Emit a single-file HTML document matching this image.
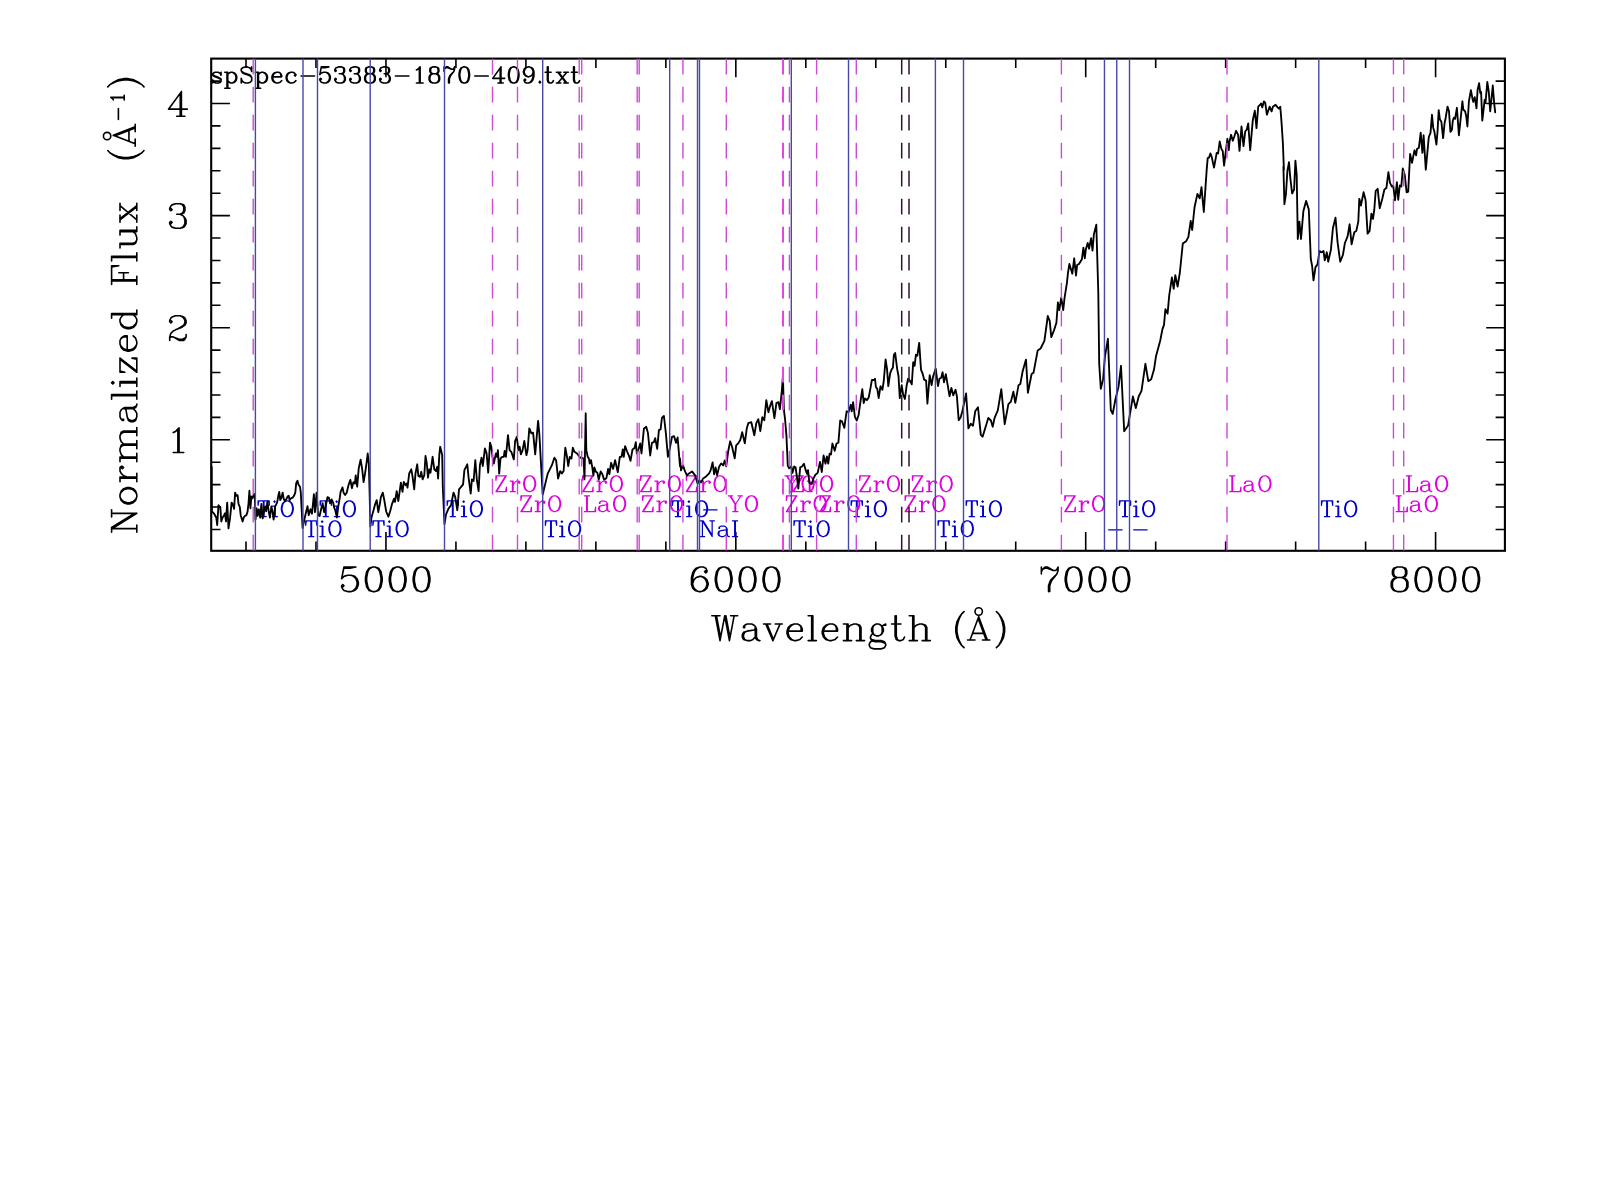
<!DOCTYPE html>
<html><head><meta charset="utf-8"><style>
html,body{margin:0;padding:0;background:#fff;width:1600px;height:1196px;overflow:hidden}
svg{display:block}
</style></head><body>
<svg width="1600" height="1196" viewBox="0 0 1600 1196">
<rect width="1600" height="1196" fill="#fff"/>
<rect x="211.2" y="58.6" width="1293.70" height="492.20" fill="none" stroke="#000" stroke-width="2.1"/><path d="M246.00 550.8V541.50M246.00 58.6V67.90M315.97 550.8V541.50M315.97 58.6V67.90M385.95 550.8V532.10M385.95 58.6V77.30M455.93 550.8V541.50M455.93 58.6V67.90M525.90 550.8V541.50M525.90 58.6V67.90M595.88 550.8V541.50M595.88 58.6V67.90M665.85 550.8V541.50M665.85 58.6V67.90M735.83 550.8V532.10M735.83 58.6V77.30M805.81 550.8V541.50M805.81 58.6V67.90M875.78 550.8V541.50M875.78 58.6V67.90M945.76 550.8V541.50M945.76 58.6V67.90M1015.73 550.8V541.50M1015.73 58.6V67.90M1085.71 550.8V532.10M1085.71 58.6V77.30M1155.69 550.8V541.50M1155.69 58.6V67.90M1225.66 550.8V541.50M1225.66 58.6V67.90M1295.64 550.8V541.50M1295.64 58.6V67.90M1365.61 550.8V541.50M1365.61 58.6V67.90M1435.59 550.8V532.10M1435.59 58.6V77.30M211.2 529.48H220.50M1504.9 529.48H1495.60M211.2 507.06H220.50M1504.9 507.06H1495.60M211.2 484.64H220.50M1504.9 484.64H1495.60M211.2 462.22H220.50M1504.9 462.22H1495.60M211.2 439.80H229.90M1504.9 439.80H1486.20M211.2 417.38H220.50M1504.9 417.38H1495.60M211.2 394.96H220.50M1504.9 394.96H1495.60M211.2 372.54H220.50M1504.9 372.54H1495.60M211.2 350.12H220.50M1504.9 350.12H1495.60M211.2 327.70H229.90M1504.9 327.70H1486.20M211.2 305.28H220.50M1504.9 305.28H1495.60M211.2 282.86H220.50M1504.9 282.86H1495.60M211.2 260.44H220.50M1504.9 260.44H1495.60M211.2 238.02H220.50M1504.9 238.02H1495.60M211.2 215.60H229.90M1504.9 215.60H1486.20M211.2 193.18H220.50M1504.9 193.18H1495.60M211.2 170.76H220.50M1504.9 170.76H1495.60M211.2 148.34H220.50M1504.9 148.34H1495.60M211.2 125.92H220.50M1504.9 125.92H1495.60M211.2 103.50H229.90M1504.9 103.50H1486.20M211.2 81.08H220.50M1504.9 81.08H1495.60" stroke="#000" stroke-width="1.6" fill="none"/>
<g fill="none" stroke="#000" stroke-linecap="round" stroke-linejoin="round" stroke-width="1.6"><path d="M343.99 567.01L341.61 578.72M341.61 578.72L343.99 576.38L347.57 575.21L351.15 575.21L354.73 576.38L357.12 578.72L358.31 582.23L358.31 584.57L357.12 588.09L354.73 590.43L351.15 591.60L347.57 591.60L343.99 590.43L342.80 589.26L341.61 586.92L341.61 585.75L342.80 584.57L343.99 585.75L342.80 586.92M351.15 575.21L353.54 576.38L355.92 578.72L357.12 582.23L357.12 584.57L355.92 588.09L353.54 590.43L351.15 591.60M343.99 567.01L355.92 567.01M343.99 568.18L349.96 568.18L355.92 567.01M372.63 567.01L369.05 568.18L366.66 571.69L365.47 577.55L365.47 581.06L366.66 586.92L369.05 590.43L372.63 591.60L375.01 591.60L378.59 590.43L380.98 586.92L382.17 581.06L382.17 577.55L380.98 571.69L378.59 568.18L375.01 567.01L372.63 567.01M372.63 567.01L370.24 568.18L369.05 569.35L367.85 571.69L366.66 577.55L366.66 581.06L367.85 586.92L369.05 589.26L370.24 590.43L372.63 591.60M375.01 591.60L377.40 590.43L378.59 589.26L379.78 586.92L380.98 581.06L380.98 577.55L379.78 571.69L378.59 569.35L377.40 568.18L375.01 567.01M396.49 567.01L392.91 568.18L390.52 571.69L389.33 577.55L389.33 581.06L390.52 586.92L392.91 590.43L396.49 591.60L398.87 591.60L402.45 590.43L404.84 586.92L406.03 581.06L406.03 577.55L404.84 571.69L402.45 568.18L398.87 567.01L396.49 567.01M396.49 567.01L394.10 568.18L392.91 569.35L391.71 571.69L390.52 577.55L390.52 581.06L391.71 586.92L392.91 589.26L394.10 590.43L396.49 591.60M398.87 591.60L401.26 590.43L402.45 589.26L403.64 586.92L404.84 581.06L404.84 577.55L403.64 571.69L402.45 569.35L401.26 568.18L398.87 567.01M420.35 567.01L416.77 568.18L414.38 571.69L413.19 577.55L413.19 581.06L414.38 586.92L416.77 590.43L420.35 591.60L422.73 591.60L426.31 590.43L428.70 586.92L429.89 581.06L429.89 577.55L428.70 571.69L426.31 568.18L422.73 567.01L420.35 567.01M420.35 567.01L417.96 568.18L416.77 569.35L415.57 571.69L414.38 577.55L414.38 581.06L415.57 586.92L416.77 589.26L417.96 590.43L420.35 591.60M422.73 591.60L425.12 590.43L426.31 589.26L427.50 586.92L428.70 581.06L428.70 577.55L427.50 571.69L426.31 569.35L425.12 568.18L422.73 567.01M705.81 570.52L704.61 571.69L705.81 572.86L707.00 571.69L707.00 570.52L705.81 568.18L703.42 567.01L699.84 567.01L696.26 568.18L693.88 570.52L692.68 572.86L691.49 577.55L691.49 584.57L692.68 588.09L695.07 590.43L698.65 591.60L701.03 591.60L704.61 590.43L707.00 588.09L708.19 584.57L708.19 583.40L707.00 579.89L704.61 577.55L701.03 576.38L699.84 576.38L696.26 577.55L693.88 579.89L692.68 583.40M699.84 567.01L697.45 568.18L695.07 570.52L693.88 572.86L692.68 577.55L692.68 584.57L693.88 588.09L696.26 590.43L698.65 591.60M701.03 591.60L703.42 590.43L705.81 588.09L707.00 584.57L707.00 583.40L705.81 579.89L703.42 577.55L701.03 576.38M722.51 567.01L718.93 568.18L716.54 571.69L715.35 577.55L715.35 581.06L716.54 586.92L718.93 590.43L722.51 591.60L724.89 591.60L728.47 590.43L730.86 586.92L732.05 581.06L732.05 577.55L730.86 571.69L728.47 568.18L724.89 567.01L722.51 567.01M722.51 567.01L720.12 568.18L718.93 569.35L717.74 571.69L716.54 577.55L716.54 581.06L717.74 586.92L718.93 589.26L720.12 590.43L722.51 591.60M724.89 591.60L727.28 590.43L728.47 589.26L729.67 586.92L730.86 581.06L730.86 577.55L729.67 571.69L728.47 569.35L727.28 568.18L724.89 567.01M746.37 567.01L742.79 568.18L740.40 571.69L739.21 577.55L739.21 581.06L740.40 586.92L742.79 590.43L746.37 591.60L748.75 591.60L752.33 590.43L754.72 586.92L755.91 581.06L755.91 577.55L754.72 571.69L752.33 568.18L748.75 567.01L746.37 567.01M746.37 567.01L743.98 568.18L742.79 569.35L741.60 571.69L740.40 577.55L740.40 581.06L741.60 586.92L742.79 589.26L743.98 590.43L746.37 591.60M748.75 591.60L751.14 590.43L752.33 589.26L753.53 586.92L754.72 581.06L754.72 577.55L753.53 571.69L752.33 569.35L751.14 568.18L748.75 567.01M770.23 567.01L766.65 568.18L764.26 571.69L763.07 577.55L763.07 581.06L764.26 586.92L766.65 590.43L770.23 591.60L772.61 591.60L776.19 590.43L778.58 586.92L779.77 581.06L779.77 577.55L778.58 571.69L776.19 568.18L772.61 567.01L770.23 567.01M770.23 567.01L767.84 568.18L766.65 569.35L765.46 571.69L764.26 577.55L764.26 581.06L765.46 586.92L766.65 589.26L767.84 590.43L770.23 591.60M772.61 591.60L775.00 590.43L776.19 589.26L777.39 586.92L778.58 581.06L778.58 577.55L777.39 571.69L776.19 569.35L775.00 568.18L772.61 567.01M1041.37 567.01L1041.37 574.03M1041.37 571.69L1042.56 569.35L1044.95 567.01L1047.33 567.01L1053.30 570.52L1055.68 570.52L1056.88 569.35L1058.07 567.01M1042.56 569.35L1044.95 568.18L1047.33 568.18L1053.30 570.52M1058.07 567.01L1058.07 570.52L1056.88 574.03L1052.11 579.89L1050.91 582.23L1049.72 585.75L1049.72 591.60M1056.88 574.03L1050.91 579.89L1049.72 582.23L1048.53 585.75L1048.53 591.60M1072.39 567.01L1068.81 568.18L1066.42 571.69L1065.23 577.55L1065.23 581.06L1066.42 586.92L1068.81 590.43L1072.39 591.60L1074.77 591.60L1078.35 590.43L1080.74 586.92L1081.93 581.06L1081.93 577.55L1080.74 571.69L1078.35 568.18L1074.77 567.01L1072.39 567.01M1072.39 567.01L1070.00 568.18L1068.81 569.35L1067.62 571.69L1066.42 577.55L1066.42 581.06L1067.62 586.92L1068.81 589.26L1070.00 590.43L1072.39 591.60M1074.77 591.60L1077.16 590.43L1078.35 589.26L1079.55 586.92L1080.74 581.06L1080.74 577.55L1079.55 571.69L1078.35 569.35L1077.16 568.18L1074.77 567.01M1096.25 567.01L1092.67 568.18L1090.28 571.69L1089.09 577.55L1089.09 581.06L1090.28 586.92L1092.67 590.43L1096.25 591.60L1098.63 591.60L1102.21 590.43L1104.60 586.92L1105.79 581.06L1105.79 577.55L1104.60 571.69L1102.21 568.18L1098.63 567.01L1096.25 567.01M1096.25 567.01L1093.86 568.18L1092.67 569.35L1091.47 571.69L1090.28 577.55L1090.28 581.06L1091.47 586.92L1092.67 589.26L1093.86 590.43L1096.25 591.60M1098.63 591.60L1101.02 590.43L1102.21 589.26L1103.40 586.92L1104.60 581.06L1104.60 577.55L1103.40 571.69L1102.21 569.35L1101.02 568.18L1098.63 567.01M1120.11 567.01L1116.53 568.18L1114.14 571.69L1112.95 577.55L1112.95 581.06L1114.14 586.92L1116.53 590.43L1120.11 591.60L1122.49 591.60L1126.07 590.43L1128.46 586.92L1129.65 581.06L1129.65 577.55L1128.46 571.69L1126.07 568.18L1122.49 567.01L1120.11 567.01M1120.11 567.01L1117.72 568.18L1116.53 569.35L1115.34 571.69L1114.14 577.55L1114.14 581.06L1115.34 586.92L1116.53 589.26L1117.72 590.43L1120.11 591.60M1122.49 591.60L1124.88 590.43L1126.07 589.26L1127.26 586.92L1128.46 581.06L1128.46 577.55L1127.26 571.69L1126.07 569.35L1124.88 568.18L1122.49 567.01M1397.21 567.01L1393.63 568.18L1392.44 570.52L1392.44 574.03L1393.63 576.38L1397.21 577.55L1401.99 577.55L1405.57 576.38L1406.76 574.03L1406.76 570.52L1405.57 568.18L1401.99 567.01L1397.21 567.01M1397.21 567.01L1394.83 568.18L1393.63 570.52L1393.63 574.03L1394.83 576.38L1397.21 577.55M1401.99 577.55L1404.37 576.38L1405.57 574.03L1405.57 570.52L1404.37 568.18L1401.99 567.01M1397.21 577.55L1393.63 578.72L1392.44 579.89L1391.25 582.23L1391.25 586.92L1392.44 589.26L1393.63 590.43L1397.21 591.60L1401.99 591.60L1405.57 590.43L1406.76 589.26L1407.95 586.92L1407.95 582.23L1406.76 579.89L1405.57 578.72L1401.99 577.55M1397.21 577.55L1394.83 578.72L1393.63 579.89L1392.44 582.23L1392.44 586.92L1393.63 589.26L1394.83 590.43L1397.21 591.60M1401.99 591.60L1404.37 590.43L1405.57 589.26L1406.76 586.92L1406.76 582.23L1405.57 579.89L1404.37 578.72L1401.99 577.55M1422.27 567.01L1418.69 568.18L1416.30 571.69L1415.11 577.55L1415.11 581.06L1416.30 586.92L1418.69 590.43L1422.27 591.60L1424.65 591.60L1428.23 590.43L1430.62 586.92L1431.81 581.06L1431.81 577.55L1430.62 571.69L1428.23 568.18L1424.65 567.01L1422.27 567.01M1422.27 567.01L1419.88 568.18L1418.69 569.35L1417.50 571.69L1416.30 577.55L1416.30 581.06L1417.50 586.92L1418.69 589.26L1419.88 590.43L1422.27 591.60M1424.65 591.60L1427.04 590.43L1428.23 589.26L1429.43 586.92L1430.62 581.06L1430.62 577.55L1429.43 571.69L1428.23 569.35L1427.04 568.18L1424.65 567.01M1446.13 567.01L1442.55 568.18L1440.16 571.69L1438.97 577.55L1438.97 581.06L1440.16 586.92L1442.55 590.43L1446.13 591.60L1448.51 591.60L1452.09 590.43L1454.48 586.92L1455.67 581.06L1455.67 577.55L1454.48 571.69L1452.09 568.18L1448.51 567.01L1446.13 567.01M1446.13 567.01L1443.74 568.18L1442.55 569.35L1441.36 571.69L1440.16 577.55L1440.16 581.06L1441.36 586.92L1442.55 589.26L1443.74 590.43L1446.13 591.60M1448.51 591.60L1450.90 590.43L1452.09 589.26L1453.29 586.92L1454.48 581.06L1454.48 577.55L1453.29 571.69L1452.09 569.35L1450.90 568.18L1448.51 567.01M1469.99 567.01L1466.41 568.18L1464.02 571.69L1462.83 577.55L1462.83 581.06L1464.02 586.92L1466.41 590.43L1469.99 591.60L1472.37 591.60L1475.95 590.43L1478.34 586.92L1479.53 581.06L1479.53 577.55L1478.34 571.69L1475.95 568.18L1472.37 567.01L1469.99 567.01M1469.99 567.01L1467.60 568.18L1466.41 569.35L1465.22 571.69L1464.02 577.55L1464.02 581.06L1465.22 586.92L1466.41 589.26L1467.60 590.43L1469.99 591.60M1472.37 591.60L1474.76 590.43L1475.95 589.26L1477.14 586.92L1478.34 581.06L1478.34 577.55L1477.14 571.69L1475.95 569.35L1474.76 568.18L1472.37 567.01M173.21 432.59L175.55 431.42L179.06 427.90L179.06 452.50M177.89 429.08L177.89 452.50M173.21 452.50L183.74 452.50M170.86 320.49L172.03 321.66L170.86 322.83L169.69 321.66L169.69 320.49L170.86 318.15L172.03 316.98L175.55 315.80L180.23 315.80L183.74 316.98L184.92 318.15L186.09 320.49L186.09 322.83L184.92 325.17L181.40 327.51L175.55 329.86L173.21 331.03L170.86 333.37L169.69 336.88L169.69 340.40M180.23 315.80L182.57 316.98L183.74 318.15L184.92 320.49L184.92 322.83L183.74 325.17L180.23 327.51L175.55 329.86M169.69 338.05L170.86 336.88L173.21 336.88L179.06 339.22L182.57 339.22L184.92 338.05L186.09 336.88M173.21 336.88L179.06 340.40L183.74 340.40L184.92 339.22L186.09 336.88L186.09 334.54M170.86 208.39L172.03 209.56L170.86 210.73L169.69 209.56L169.69 208.39L170.86 206.05L172.03 204.88L175.55 203.70L180.23 203.70L183.74 204.88L184.92 207.22L184.92 210.73L183.74 213.07L180.23 214.24L176.72 214.24M180.23 203.70L182.57 204.88L183.74 207.22L183.74 210.73L182.57 213.07L180.23 214.24M180.23 214.24L182.57 215.41L184.92 217.76L186.09 220.10L186.09 223.61L184.92 225.95L183.74 227.12L180.23 228.30L175.55 228.30L172.03 227.12L170.86 225.95L169.69 223.61L169.69 222.44L170.86 221.27L172.03 222.44L170.86 223.61M183.74 216.59L184.92 220.10L184.92 223.61L183.74 225.95L182.57 227.12L180.23 228.30M180.23 93.95L180.23 116.20M181.40 91.60L181.40 116.20M181.40 91.60L168.52 109.17L187.26 109.17M176.72 116.20L184.92 116.20M715.33 615.80L720.02 640.60M716.50 615.80L720.02 634.70M724.73 615.80L720.02 640.60M724.73 615.80L729.42 640.60M725.90 615.80L729.42 634.70M734.12 615.80L729.42 640.60M711.80 615.80L720.02 615.80M730.60 615.80L737.65 615.80M744.70 626.43L744.70 627.61L743.52 627.61L743.52 626.43L744.70 625.25L747.05 624.07L751.75 624.07L754.10 625.25L755.27 626.43L756.45 628.79L756.45 637.06L757.62 639.42L758.80 640.60M755.27 626.43L755.27 637.06L756.45 639.42L758.80 640.60L759.98 640.60M755.27 628.79L754.10 629.97L747.05 631.15L743.52 632.33L742.35 634.70L742.35 637.06L743.52 639.42L747.05 640.60L750.58 640.60L752.92 639.42L755.27 637.06M747.05 631.15L744.70 632.33L743.52 634.70L743.52 637.06L744.70 639.42L747.05 640.60M765.85 624.07L772.90 640.60M767.02 624.07L772.90 638.24M779.95 624.07L772.90 640.60M763.50 624.07L770.55 624.07M775.25 624.07L782.30 624.07M788.17 631.15L802.27 631.15L802.27 628.79L801.10 626.43L799.92 625.25L797.58 624.07L794.05 624.07L790.52 625.25L788.17 627.61L787.00 631.15L787.00 633.51L788.17 637.06L790.52 639.42L794.05 640.60L796.40 640.60L799.92 639.42L802.27 637.06M801.10 631.15L801.10 627.61L799.92 625.25M794.05 624.07L791.70 625.25L789.35 627.61L788.17 631.15L788.17 633.51L789.35 637.06L791.70 639.42L794.05 640.60M811.67 615.80L811.67 640.60M812.85 615.80L812.85 640.60M808.15 615.80L812.85 615.80M808.15 640.60L816.38 640.60M823.42 631.15L837.52 631.15L837.52 628.79L836.35 626.43L835.17 625.25L832.83 624.07L829.30 624.07L825.77 625.25L823.42 627.61L822.25 631.15L822.25 633.51L823.42 637.06L825.77 639.42L829.30 640.60L831.65 640.60L835.17 639.42L837.52 637.06M836.35 631.15L836.35 627.61L835.17 625.25M829.30 624.07L826.95 625.25L824.60 627.61L823.42 631.15L823.42 633.51L824.60 637.06L826.95 639.42L829.30 640.60M846.92 624.07L846.92 640.60M848.10 624.07L848.10 640.60M848.10 627.61L850.45 625.25L853.98 624.07L856.33 624.07L859.85 625.25L861.02 627.61L861.02 640.60M856.33 624.07L858.67 625.25L859.85 627.61L859.85 640.60M843.40 624.07L848.10 624.07M843.40 640.60L851.62 640.60M856.33 640.60L864.55 640.60M876.30 624.07L873.95 625.25L872.77 626.43L871.60 628.79L871.60 631.15L872.77 633.51L873.95 634.70L876.30 635.88L878.65 635.88L881.00 634.70L882.17 633.51L883.35 631.15L883.35 628.79L882.17 626.43L881.00 625.25L878.65 624.07L876.30 624.07M873.95 625.25L872.77 627.61L872.77 632.33L873.95 634.70M881.00 634.70L882.17 632.33L882.17 627.61L881.00 625.25M882.17 626.43L883.35 625.25L885.70 624.07L885.70 625.25L883.35 625.25M872.77 633.51L871.60 634.70L870.42 637.06L870.42 638.24L871.60 640.60L875.12 641.78L881.00 641.78L884.52 642.96L885.70 644.14M870.42 638.24L871.60 639.42L875.12 640.60L881.00 640.60L884.52 641.78L885.70 644.14L885.70 645.32L884.52 647.69L881.00 648.87L873.95 648.87L870.42 647.69L869.25 645.32L869.25 644.14L870.42 641.78L873.95 640.60M895.10 615.80L895.10 635.88L896.27 639.42L898.62 640.60L900.98 640.60L903.33 639.42L904.50 637.06M896.27 615.80L896.27 635.88L897.45 639.42L898.62 640.60M891.58 624.07L900.98 624.07M912.73 615.80L912.73 640.60M913.90 615.80L913.90 640.60M913.90 627.61L916.25 625.25L919.77 624.07L922.12 624.07L925.65 625.25L926.83 627.61L926.83 640.60M922.12 624.07L924.48 625.25L925.65 627.61L925.65 640.60M909.20 615.80L913.90 615.80M909.20 640.60L917.42 640.60M922.12 640.60L930.35 640.60M964.02 611.60L961.67 613.86L959.32 617.24L956.97 621.75L955.80 627.39L955.80 631.91L956.97 637.55L959.32 642.06L961.67 645.44L964.02 647.70M961.67 613.86L959.32 618.37L958.15 621.75L956.97 627.39L956.97 631.91L958.15 637.55L959.32 640.93L961.67 645.44M996.40 611.60L998.75 613.86L1001.10 617.24L1003.45 621.75L1004.62 627.39L1004.62 631.91L1003.45 637.55L1001.10 642.06L998.75 645.44L996.40 647.70M998.75 613.86L1001.10 618.37L1002.27 621.75L1003.45 627.39L1003.45 631.91L1002.27 637.55L1001.10 640.93L998.75 645.44M978.70 616.70L970.03 640.00M978.70 616.70L987.37 640.00M978.70 620.03L986.13 640.00M972.51 633.34L983.66 633.34M967.55 640.00L974.98 640.00M982.42 640.00L989.85 640.00"/><path d="M111.60 528.67L136.80 528.67M111.60 527.50L134.40 513.38M114.00 527.50L136.80 513.38M111.60 513.38L136.80 513.38M111.60 532.20L111.60 527.50M111.60 516.91L111.60 509.86M136.80 532.20L136.80 525.14M120.00 496.92L121.20 500.45L123.60 502.80L127.20 503.98L129.60 503.98L133.20 502.80L135.60 500.45L136.80 496.92L136.80 494.57L135.60 491.04L133.20 488.69L129.60 487.51L127.20 487.51L123.60 488.69L121.20 491.04L120.00 494.57L120.00 496.92M120.00 496.92L121.20 499.27L123.60 501.62L127.20 502.80L129.60 502.80L133.20 501.62L135.60 499.27L136.80 496.92M136.80 494.57L135.60 492.22L133.20 489.86L129.60 488.69L127.20 488.69L123.60 489.86L121.20 492.22L120.00 494.57M120.00 478.10L136.80 478.10M120.00 476.93L136.80 476.93M127.20 476.93L123.60 475.75L121.20 473.40L120.00 471.05L120.00 467.52L121.20 466.34L122.40 466.34L123.60 467.52L122.40 468.70L121.20 467.52M120.00 481.63L120.00 476.93M136.80 481.63L136.80 473.40M120.00 458.11L136.80 458.11M120.00 456.94L136.80 456.94M123.60 456.94L121.20 454.58L120.00 451.06L120.00 448.70L121.20 445.18L123.60 444.00L136.80 444.00M120.00 448.70L121.20 446.35L123.60 445.18L136.80 445.18M123.60 444.00L121.20 441.65L120.00 438.12L120.00 435.77L121.20 432.24L123.60 431.06L136.80 431.06M120.00 435.77L121.20 433.42L123.60 432.24L136.80 432.24M120.00 461.64L120.00 456.94M136.80 461.64L136.80 453.41M136.80 448.70L136.80 440.47M136.80 435.77L136.80 427.54M122.40 419.30L123.60 419.30L123.60 420.48L122.40 420.48L121.20 419.30L120.00 416.95L120.00 412.25L121.20 409.90L122.40 408.72L124.80 407.54L133.20 407.54L135.60 406.37L136.80 405.19M122.40 408.72L133.20 408.72L135.60 407.54L136.80 405.19L136.80 404.02M124.80 408.72L126.00 409.90L127.20 416.95L128.40 420.48L130.80 421.66L133.20 421.66L135.60 420.48L136.80 416.95L136.80 413.42L135.60 411.07L133.20 408.72M127.20 416.95L128.40 419.30L130.80 420.48L133.20 420.48L135.60 419.30L136.80 416.95M111.60 395.78L136.80 395.78M111.60 394.61L136.80 394.61M111.60 399.31L111.60 394.61M136.80 399.31L136.80 391.08M111.60 382.85L112.80 384.02L114.00 382.85L112.80 381.67L111.60 382.85M120.00 382.85L136.80 382.85M120.00 381.67L136.80 381.67M120.00 386.38L120.00 381.67M136.80 386.38L136.80 378.14M120.00 359.33L136.80 372.26M120.00 358.15L136.80 371.09M120.00 371.09L124.80 372.26L120.00 372.26L120.00 358.15M136.80 372.26L136.80 358.15L132.00 358.15L136.80 359.33M127.20 349.92L127.20 335.81L124.80 335.81L122.40 336.98L121.20 338.16L120.00 340.51L120.00 344.04L121.20 347.57L123.60 349.92L127.20 351.10L129.60 351.10L133.20 349.92L135.60 347.57L136.80 344.04L136.80 341.69L135.60 338.16L133.20 335.81M127.20 336.98L123.60 336.98L121.20 338.16M120.00 344.04L121.20 346.39L123.60 348.74L127.20 349.92L129.60 349.92L133.20 348.74L135.60 346.39L136.80 344.04M111.60 314.64L136.80 314.64M111.60 313.46L136.80 313.46M123.60 314.64L121.20 316.99L120.00 319.34L120.00 321.70L121.20 325.22L123.60 327.58L127.20 328.75L129.60 328.75L133.20 327.58L135.60 325.22L136.80 321.70L136.80 319.34L135.60 316.99L133.20 314.64M120.00 321.70L121.20 324.05L123.60 326.40L127.20 327.58L129.60 327.58L133.20 326.40L135.60 324.05L136.80 321.70M111.60 318.17L111.60 313.46M136.80 314.64L136.80 309.94M111.60 280.97L136.80 280.97M111.60 279.80L136.80 279.80M118.80 272.74L128.40 272.74M111.60 284.50L111.60 265.68L118.80 265.68L111.60 266.86M123.60 279.80L123.60 272.74M136.80 284.50L136.80 276.27M111.60 257.45L136.80 257.45M111.60 256.28L136.80 256.28M111.60 260.98L111.60 256.28M136.80 260.98L136.80 252.75M120.00 244.52L133.20 244.52L135.60 243.34L136.80 239.81L136.80 237.46L135.60 233.93L133.20 231.58M120.00 243.34L133.20 243.34L135.60 242.16L136.80 239.81M120.00 231.58L136.80 231.58M120.00 230.40L136.80 230.40M120.00 248.04L120.00 243.34M120.00 235.11L120.00 230.40M136.80 231.58L136.80 226.88M120.00 219.82L136.80 206.88M120.00 218.64L136.80 205.71M120.00 205.71L136.80 219.82M120.00 222.17L120.00 215.12M120.00 210.41L120.00 203.36M136.80 222.17L136.80 215.12M136.80 210.41L136.80 203.36M107.82 150.57L110.08 152.93L113.47 155.28L117.99 157.62L123.64 158.80L128.16 158.80L133.81 157.62L138.33 155.28L141.72 152.93L143.98 150.57M110.08 152.93L114.60 155.28L117.99 156.45L123.64 157.62L128.16 157.62L133.81 156.45L137.20 155.28L141.72 152.93M107.82 86.90L110.08 84.55L113.47 82.20L117.99 79.85L123.64 78.67L128.16 78.67L133.81 79.85L138.33 82.20L141.72 84.55L143.98 86.90M110.08 84.55L114.60 82.20L117.99 81.02L123.64 79.85L128.16 79.85L133.81 81.02L137.20 82.20L141.72 84.55M113.30 135.35L135.20 143.87M113.30 135.35L135.20 126.83M116.43 135.35L135.20 128.05M128.94 141.43L128.94 130.48M135.20 146.30L135.20 139.00M135.20 131.70L135.20 124.40M118.4 119.50L118.4 108.60M113.35 99.90L112.71 98.86L110.80 97.29L124.20 97.29M111.44 97.81L124.20 97.81M124.20 99.90L124.20 95.20"/><circle cx="978.7" cy="611.5" r="3.7"/><circle cx="107.1" cy="136.05" r="3.7"/></g><path d="M220.29 73.77L221.03 72.24L221.03 75.30L220.29 73.77L219.54 73.00L218.04 72.24L215.05 72.24L213.55 73.00L212.80 73.77L212.80 75.30L213.55 76.06L215.05 76.83L218.79 78.36L220.29 79.12L221.03 79.89M212.80 74.53L213.55 75.30L215.05 76.06L218.79 77.59L220.29 78.36L221.03 79.12L221.03 81.42L220.29 82.19L218.79 82.95L215.79 82.95L214.30 82.19L213.55 81.42L212.80 79.89L212.80 82.95L213.55 81.42M227.02 72.24L227.02 88.31M227.77 72.24L227.77 88.31M227.77 74.53L229.27 73.00L230.76 72.24L232.26 72.24L234.51 73.00L236.00 74.53L236.75 76.83L236.75 78.36L236.00 80.66L234.51 82.19L232.26 82.95L230.76 82.95L229.27 82.19L227.77 80.66M232.26 72.24L233.76 73.00L235.26 74.53L236.00 76.83L236.00 78.36L235.26 80.66L233.76 82.19L232.26 82.95M224.78 72.24L227.77 72.24M224.78 88.31L230.02 88.31M250.97 69.18L251.72 66.89L251.72 71.48L250.97 69.18L249.48 67.65L247.23 66.89L244.99 66.89L242.74 67.65L241.24 69.18L241.24 70.71L241.99 72.24L242.74 73.00L244.24 73.77L248.73 75.30L250.23 76.06L251.72 77.59M241.24 70.71L242.74 72.24L244.24 73.00L248.73 74.53L250.23 75.30L250.97 76.06L251.72 77.59L251.72 80.66L250.23 82.19L247.98 82.95L245.73 82.95L243.49 82.19L241.99 80.66L241.24 78.36L241.24 82.95L241.99 80.66M257.71 72.24L257.71 88.31M258.46 72.24L258.46 88.31M258.46 74.53L259.96 73.00L261.45 72.24L262.95 72.24L265.20 73.00L266.69 74.53L267.44 76.83L267.44 78.36L266.69 80.66L265.20 82.19L262.95 82.95L261.45 82.95L259.96 82.19L258.46 80.66M262.95 72.24L264.45 73.00L265.94 74.53L266.69 76.83L266.69 78.36L265.94 80.66L264.45 82.19L262.95 82.95M255.46 72.24L258.46 72.24M255.46 88.31L260.70 88.31M272.68 76.83L281.66 76.83L281.66 75.30L280.91 73.77L280.17 73.00L278.67 72.24L276.42 72.24L274.18 73.00L272.68 74.53L271.93 76.83L271.93 78.36L272.68 80.66L274.18 82.19L276.42 82.95L277.92 82.95L280.17 82.19L281.66 80.66M280.91 76.83L280.91 74.53L280.17 73.00M276.42 72.24L274.93 73.00L273.43 74.53L272.68 76.83L272.68 78.36L273.43 80.66L274.93 82.19L276.42 82.95M295.13 74.53L294.39 75.30L295.13 76.06L295.88 75.30L295.88 74.53L294.39 73.00L292.89 72.24L290.64 72.24L288.40 73.00L286.90 74.53L286.15 76.83L286.15 78.36L286.90 80.66L288.40 82.19L290.64 82.95L292.14 82.95L294.39 82.19L295.88 80.66M290.64 72.24L289.15 73.00L287.65 74.53L286.90 76.83L286.90 78.36L287.65 80.66L289.15 82.19L290.64 82.95M301.12 76.06L314.60 76.06M321.33 66.89L319.84 74.53M319.84 74.53L321.33 73.00L323.58 72.24L325.82 72.24L328.07 73.00L329.57 74.53L330.31 76.83L330.31 78.36L329.57 80.66L328.07 82.19L325.82 82.95L323.58 82.95L321.33 82.19L320.58 81.42L319.84 79.89L319.84 79.12L320.58 78.36L321.33 79.12L320.58 79.89M325.82 72.24L327.32 73.00L328.82 74.53L329.57 76.83L329.57 78.36L328.82 80.66L327.32 82.19L325.82 82.95M321.33 66.89L328.82 66.89M321.33 67.65L325.08 67.65L328.82 66.89M335.55 69.95L336.30 70.71L335.55 71.48L334.81 70.71L334.81 69.95L335.55 68.42L336.30 67.65L338.55 66.89L341.54 66.89L343.79 67.65L344.54 69.18L344.54 71.48L343.79 73.00L341.54 73.77L339.30 73.77M341.54 66.89L343.04 67.65L343.79 69.18L343.79 71.48L343.04 73.00L341.54 73.77M341.54 73.77L343.04 74.53L344.54 76.06L345.28 77.59L345.28 79.89L344.54 81.42L343.79 82.19L341.54 82.95L338.55 82.95L336.30 82.19L335.55 81.42L334.81 79.89L334.81 79.12L335.55 78.36L336.30 79.12L335.55 79.89M343.79 75.30L344.54 77.59L344.54 79.89L343.79 81.42L343.04 82.19L341.54 82.95M350.52 69.95L351.27 70.71L350.52 71.48L349.78 70.71L349.78 69.95L350.52 68.42L351.27 67.65L353.52 66.89L356.51 66.89L358.76 67.65L359.51 69.18L359.51 71.48L358.76 73.00L356.51 73.77L354.27 73.77M356.51 66.89L358.01 67.65L358.76 69.18L358.76 71.48L358.01 73.00L356.51 73.77M356.51 73.77L358.01 74.53L359.51 76.06L360.25 77.59L360.25 79.89L359.51 81.42L358.76 82.19L356.51 82.95L353.52 82.95L351.27 82.19L350.52 81.42L349.78 79.89L349.78 79.12L350.52 78.36L351.27 79.12L350.52 79.89M358.76 75.30L359.51 77.59L359.51 79.89L358.76 81.42L358.01 82.19L356.51 82.95M368.49 66.89L366.24 67.65L365.49 69.18L365.49 71.48L366.24 73.00L368.49 73.77L371.48 73.77L373.73 73.00L374.48 71.48L374.48 69.18L373.73 67.65L371.48 66.89L368.49 66.89M368.49 66.89L366.99 67.65L366.24 69.18L366.24 71.48L366.99 73.00L368.49 73.77M371.48 73.77L372.98 73.00L373.73 71.48L373.73 69.18L372.98 67.65L371.48 66.89M368.49 73.77L366.24 74.53L365.49 75.30L364.75 76.83L364.75 79.89L365.49 81.42L366.24 82.19L368.49 82.95L371.48 82.95L373.73 82.19L374.48 81.42L375.22 79.89L375.22 76.83L374.48 75.30L373.73 74.53L371.48 73.77M368.49 73.77L366.99 74.53L366.24 75.30L365.49 76.83L365.49 79.89L366.24 81.42L366.99 82.19L368.49 82.95M371.48 82.95L372.98 82.19L373.73 81.42L374.48 79.89L374.48 76.83L373.73 75.30L372.98 74.53L371.48 73.77M380.46 69.95L381.21 70.71L380.46 71.48L379.72 70.71L379.72 69.95L380.46 68.42L381.21 67.65L383.46 66.89L386.45 66.89L388.70 67.65L389.45 69.18L389.45 71.48L388.70 73.00L386.45 73.77L384.21 73.77M386.45 66.89L387.95 67.65L388.70 69.18L388.70 71.48L387.95 73.00L386.45 73.77M386.45 73.77L387.95 74.53L389.45 76.06L390.19 77.59L390.19 79.89L389.45 81.42L388.70 82.19L386.45 82.95L383.46 82.95L381.21 82.19L380.46 81.42L379.72 79.89L379.72 79.12L380.46 78.36L381.21 79.12L380.46 79.89M388.70 75.30L389.45 77.59L389.45 79.89L388.70 81.42L387.95 82.19L386.45 82.95M395.43 76.06L408.91 76.06M416.39 69.95L417.89 69.18L420.13 66.89L420.13 82.95M419.39 67.65L419.39 82.95M416.39 82.95L423.13 82.95M432.86 66.89L430.61 67.65L429.87 69.18L429.87 71.48L430.61 73.00L432.86 73.77L435.85 73.77L438.10 73.00L438.85 71.48L438.85 69.18L438.10 67.65L435.85 66.89L432.86 66.89M432.86 66.89L431.36 67.65L430.61 69.18L430.61 71.48L431.36 73.00L432.86 73.77M435.85 73.77L437.35 73.00L438.10 71.48L438.10 69.18L437.35 67.65L435.85 66.89M432.86 73.77L430.61 74.53L429.87 75.30L429.12 76.83L429.12 79.89L429.87 81.42L430.61 82.19L432.86 82.95L435.85 82.95L438.10 82.19L438.85 81.42L439.60 79.89L439.60 76.83L438.85 75.30L438.10 74.53L435.85 73.77M432.86 73.77L431.36 74.53L430.61 75.30L429.87 76.83L429.87 79.89L430.61 81.42L431.36 82.19L432.86 82.95M435.85 82.95L437.35 82.19L438.10 81.42L438.85 79.89L438.85 76.83L438.10 75.30L437.35 74.53L435.85 73.77M444.09 66.89L444.09 71.48M444.09 69.95L444.84 68.42L446.33 66.89L447.83 66.89L451.57 69.18L453.07 69.18L453.82 68.42L454.57 66.89M444.84 68.42L446.33 67.65L447.83 67.65L451.57 69.18M454.57 66.89L454.57 69.18L453.82 71.48L450.82 75.30L450.07 76.83L449.33 79.12L449.33 82.95M453.82 71.48L450.07 75.30L449.33 76.83L448.58 79.12L448.58 82.95M463.55 66.89L461.30 67.65L459.81 69.95L459.06 73.77L459.06 76.06L459.81 79.89L461.30 82.19L463.55 82.95L465.04 82.95L467.29 82.19L468.79 79.89L469.54 76.06L469.54 73.77L468.79 69.95L467.29 67.65L465.04 66.89L463.55 66.89M463.55 66.89L462.05 67.65L461.30 68.42L460.55 69.95L459.81 73.77L459.81 76.06L460.55 79.89L461.30 81.42L462.05 82.19L463.55 82.95M465.04 82.95L466.54 82.19L467.29 81.42L468.04 79.89L468.79 76.06L468.79 73.77L468.04 69.95L467.29 68.42L466.54 67.65L465.04 66.89M474.78 76.06L488.25 76.06M500.22 68.42L500.22 82.95M500.97 66.89L500.97 82.95M500.97 66.89L492.74 78.36L504.72 78.36M497.98 82.95L503.22 82.95M512.95 66.89L510.70 67.65L509.21 69.95L508.46 73.77L508.46 76.06L509.21 79.89L510.70 82.19L512.95 82.95L514.45 82.95L516.69 82.19L518.19 79.89L518.94 76.06L518.94 73.77L518.19 69.95L516.69 67.65L514.45 66.89L512.95 66.89M512.95 66.89L511.45 67.65L510.70 68.42L509.95 69.95L509.21 73.77L509.21 76.06L509.95 79.89L510.70 81.42L511.45 82.19L512.95 82.95M514.45 82.95L515.94 82.19L516.69 81.42L517.44 79.89L518.19 76.06L518.19 73.77L517.44 69.95L516.69 68.42L515.94 67.65L514.45 66.89M533.16 72.24L532.41 74.53L530.91 76.06L528.67 76.83L527.92 76.83L525.67 76.06L524.18 74.53L523.43 72.24L523.43 71.48L524.18 69.18L525.67 67.65L527.92 66.89L529.42 66.89L531.66 67.65L533.16 69.18L533.91 71.48L533.91 76.06L533.16 79.12L532.41 80.66L530.91 82.19L528.67 82.95L526.42 82.95L524.92 82.19L524.18 80.66L524.18 79.89L524.92 79.12L525.67 79.89L524.92 80.66M527.92 76.83L526.42 76.06L524.92 74.53L524.18 72.24L524.18 71.48L524.92 69.18L526.42 67.65L527.92 66.89M529.42 66.89L530.91 67.65L532.41 69.18L533.16 71.48L533.16 76.06L532.41 79.12L531.66 80.66L530.16 82.19L528.67 82.95M539.89 81.42L539.15 82.19L539.89 82.95L540.64 82.19L539.89 81.42M547.38 66.89L547.38 79.89L548.13 82.19L549.62 82.95L551.12 82.95L552.62 82.19L553.37 80.66M548.13 66.89L548.13 79.89L548.88 82.19L549.62 82.95M545.13 72.24L551.12 72.24M557.86 72.24L566.09 82.95M558.61 72.24L566.84 82.95M566.84 72.24L557.86 82.95M556.36 72.24L560.85 72.24M563.85 72.24L568.34 72.24M556.36 82.95L560.85 82.95M563.85 82.95L568.34 82.95M573.58 66.89L573.58 79.89L574.33 82.19L575.82 82.95L577.32 82.95L578.82 82.19L579.57 80.66M574.33 66.89L574.33 79.89L575.07 82.19L575.82 82.95M571.33 72.24L577.32 72.24" fill="none" stroke="#000" stroke-width="1.6" stroke-linecap="round" stroke-linejoin="round"/>
<g fill="none" stroke-linecap="round" stroke-linejoin="round" stroke-width="1.2"><path d="M263.30 500.85L263.30 516.60M264.05 500.85L264.05 516.60M258.80 500.85L258.05 505.35L258.05 500.85L269.30 500.85L269.30 505.35L268.55 500.85M261.05 516.60L266.30 516.60M274.55 500.85L273.80 501.60L274.55 502.35L275.30 501.60L274.55 500.85M274.55 506.10L274.55 516.60M275.30 506.10L275.30 516.60M272.30 506.10L275.30 506.10M272.30 516.60L277.55 516.60M286.55 500.85L284.30 501.60L282.80 503.10L282.05 504.60L281.30 507.60L281.30 509.85L282.05 512.85L282.80 514.35L284.30 515.85L286.55 516.60L288.05 516.60L290.30 515.85L291.80 514.35L292.55 512.85L293.30 509.85L293.30 507.60L292.55 504.60L291.80 503.10L290.30 501.60L288.05 500.85L286.55 500.85M286.55 500.85L285.05 501.60L283.55 503.10L282.80 504.60L282.05 507.60L282.05 509.85L282.80 512.85L283.55 514.35L285.05 515.85L286.55 516.60M288.05 516.60L289.55 515.85L291.05 514.35L291.80 512.85L292.55 509.85L292.55 507.60L291.80 504.60L291.05 503.10L289.55 501.60L288.05 500.85M310.90 520.80L310.90 536.55M311.65 520.80L311.65 536.55M306.40 520.80L305.65 525.30L305.65 520.80L316.90 520.80L316.90 525.30L316.15 520.80M308.65 536.55L313.90 536.55M322.15 520.80L321.40 521.55L322.15 522.30L322.90 521.55L322.15 520.80M322.15 526.05L322.15 536.55M322.90 526.05L322.90 536.55M319.90 526.05L322.90 526.05M319.90 536.55L325.15 536.55M334.15 520.80L331.90 521.55L330.40 523.05L329.65 524.55L328.90 527.55L328.90 529.80L329.65 532.80L330.40 534.30L331.90 535.80L334.15 536.55L335.65 536.55L337.90 535.80L339.40 534.30L340.15 532.80L340.90 529.80L340.90 527.55L340.15 524.55L339.40 523.05L337.90 521.55L335.65 520.80L334.15 520.80M334.15 520.80L332.65 521.55L331.15 523.05L330.40 524.55L329.65 527.55L329.65 529.80L330.40 532.80L331.15 534.30L332.65 535.80L334.15 536.55M335.65 536.55L337.15 535.80L338.65 534.30L339.40 532.80L340.15 529.80L340.15 527.55L339.40 524.55L338.65 523.05L337.15 521.55L335.65 520.80M325.40 500.85L325.40 516.60M326.15 500.85L326.15 516.60M320.90 500.85L320.15 505.35L320.15 500.85L331.40 500.85L331.40 505.35L330.65 500.85M323.15 516.60L328.40 516.60M336.65 500.85L335.90 501.60L336.65 502.35L337.40 501.60L336.65 500.85M336.65 506.10L336.65 516.60M337.40 506.10L337.40 516.60M334.40 506.10L337.40 506.10M334.40 516.60L339.65 516.60M348.65 500.85L346.40 501.60L344.90 503.10L344.15 504.60L343.40 507.60L343.40 509.85L344.15 512.85L344.90 514.35L346.40 515.85L348.65 516.60L350.15 516.60L352.40 515.85L353.90 514.35L354.65 512.85L355.40 509.85L355.40 507.60L354.65 504.60L353.90 503.10L352.40 501.60L350.15 500.85L348.65 500.85M348.65 500.85L347.15 501.60L345.65 503.10L344.90 504.60L344.15 507.60L344.15 509.85L344.90 512.85L345.65 514.35L347.15 515.85L348.65 516.60M350.15 516.60L351.65 515.85L353.15 514.35L353.90 512.85L354.65 509.85L354.65 507.60L353.90 504.60L353.15 503.10L351.65 501.60L350.15 500.85M378.10 520.80L378.10 536.55M378.85 520.80L378.85 536.55M373.60 520.80L372.85 525.30L372.85 520.80L384.10 520.80L384.10 525.30L383.35 520.80M375.85 536.55L381.10 536.55M389.35 520.80L388.60 521.55L389.35 522.30L390.10 521.55L389.35 520.80M389.35 526.05L389.35 536.55M390.10 526.05L390.10 536.55M387.10 526.05L390.10 526.05M387.10 536.55L392.35 536.55M401.35 520.80L399.10 521.55L397.60 523.05L396.85 524.55L396.10 527.55L396.10 529.80L396.85 532.80L397.60 534.30L399.10 535.80L401.35 536.55L402.85 536.55L405.10 535.80L406.60 534.30L407.35 532.80L408.10 529.80L408.10 527.55L407.35 524.55L406.60 523.05L405.10 521.55L402.85 520.80L401.35 520.80M401.35 520.80L399.85 521.55L398.35 523.05L397.60 524.55L396.85 527.55L396.85 529.80L397.60 532.80L398.35 534.30L399.85 535.80L401.35 536.55M402.85 536.55L404.35 535.80L405.85 534.30L406.60 532.80L407.35 529.80L407.35 527.55L406.60 524.55L405.85 523.05L404.35 521.55L402.85 520.80M452.40 500.85L452.40 516.60M453.15 500.85L453.15 516.60M447.90 500.85L447.15 505.35L447.15 500.85L458.40 500.85L458.40 505.35L457.65 500.85M450.15 516.60L455.40 516.60M463.65 500.85L462.90 501.60L463.65 502.35L464.40 501.60L463.65 500.85M463.65 506.10L463.65 516.60M464.40 506.10L464.40 516.60M461.40 506.10L464.40 506.10M461.40 516.60L466.65 516.60M475.65 500.85L473.40 501.60L471.90 503.10L471.15 504.60L470.40 507.60L470.40 509.85L471.15 512.85L471.90 514.35L473.40 515.85L475.65 516.60L477.15 516.60L479.40 515.85L480.90 514.35L481.65 512.85L482.40 509.85L482.40 507.60L481.65 504.60L480.90 503.10L479.40 501.60L477.15 500.85L475.65 500.85M475.65 500.85L474.15 501.60L472.65 503.10L471.90 504.60L471.15 507.60L471.15 509.85L471.90 512.85L472.65 514.35L474.15 515.85L475.65 516.60M477.15 516.60L478.65 515.85L480.15 514.35L480.90 512.85L481.65 509.85L481.65 507.60L480.90 504.60L480.15 503.10L478.65 501.60L477.15 500.85M550.60 520.80L550.60 536.55M551.35 520.80L551.35 536.55M546.10 520.80L545.35 525.30L545.35 520.80L556.60 520.80L556.60 525.30L555.85 520.80M548.35 536.55L553.60 536.55M561.85 520.80L561.10 521.55L561.85 522.30L562.60 521.55L561.85 520.80M561.85 526.05L561.85 536.55M562.60 526.05L562.60 536.55M559.60 526.05L562.60 526.05M559.60 536.55L564.85 536.55M573.85 520.80L571.60 521.55L570.10 523.05L569.35 524.55L568.60 527.55L568.60 529.80L569.35 532.80L570.10 534.30L571.60 535.80L573.85 536.55L575.35 536.55L577.60 535.80L579.10 534.30L579.85 532.80L580.60 529.80L580.60 527.55L579.85 524.55L579.10 523.05L577.60 521.55L575.35 520.80L573.85 520.80M573.85 520.80L572.35 521.55L570.85 523.05L570.10 524.55L569.35 527.55L569.35 529.80L570.10 532.80L570.85 534.30L572.35 535.80L573.85 536.55M575.35 536.55L576.85 535.80L578.35 534.30L579.10 532.80L579.85 529.80L579.85 527.55L579.10 524.55L578.35 523.05L576.85 521.55L575.35 520.80M677.60 500.85L677.60 516.60M678.35 500.85L678.35 516.60M673.10 500.85L672.35 505.35L672.35 500.85L683.60 500.85L683.60 505.35L682.85 500.85M675.35 516.60L680.60 516.60M688.85 500.85L688.10 501.60L688.85 502.35L689.60 501.60L688.85 500.85M688.85 506.10L688.85 516.60M689.60 506.10L689.60 516.60M686.60 506.10L689.60 506.10M686.60 516.60L691.85 516.60M700.85 500.85L698.60 501.60L697.10 503.10L696.35 504.60L695.60 507.60L695.60 509.85L696.35 512.85L697.10 514.35L698.60 515.85L700.85 516.60L702.35 516.60L704.60 515.85L706.10 514.35L706.85 512.85L707.60 509.85L707.60 507.60L706.85 504.60L706.10 503.10L704.60 501.60L702.35 500.85L700.85 500.85M700.85 500.85L699.35 501.60L697.85 503.10L697.10 504.60L696.35 507.60L696.35 509.85L697.10 512.85L697.85 514.35L699.35 515.85L700.85 516.60M702.35 516.60L703.85 515.85L705.35 514.35L706.10 512.85L706.85 509.85L706.85 507.60L706.10 504.60L705.35 503.10L703.85 501.60L702.35 500.85M702.40 520.80L702.40 536.55M703.15 520.80L712.15 535.05M703.15 522.30L712.15 536.55M712.15 520.80L712.15 536.55M700.15 520.80L703.15 520.80M709.90 520.80L714.40 520.80M700.15 536.55L704.65 536.55M719.65 527.55L719.65 528.30L718.90 528.30L718.90 527.55L719.65 526.80L721.15 526.05L724.15 526.05L725.65 526.80L726.40 527.55L727.15 529.05L727.15 534.30L727.90 535.80L728.65 536.55M726.40 527.55L726.40 534.30L727.15 535.80L728.65 536.55L729.40 536.55M726.40 529.05L725.65 529.80L721.15 530.55L718.90 531.30L718.15 532.80L718.15 534.30L718.90 535.80L721.15 536.55L723.40 536.55L724.90 535.80L726.40 534.30M721.15 530.55L719.65 531.30L718.90 532.80L718.90 534.30L719.65 535.80L721.15 536.55M734.65 520.80L734.65 536.55M735.40 520.80L735.40 536.55M732.40 520.80L737.65 520.80M732.40 536.55L737.65 536.55M703.65 509.85L717.15 509.85M799.20 520.80L799.20 536.55M799.95 520.80L799.95 536.55M794.70 520.80L793.95 525.30L793.95 520.80L805.20 520.80L805.20 525.30L804.45 520.80M796.95 536.55L802.20 536.55M810.45 520.80L809.70 521.55L810.45 522.30L811.20 521.55L810.45 520.80M810.45 526.05L810.45 536.55M811.20 526.05L811.20 536.55M808.20 526.05L811.20 526.05M808.20 536.55L813.45 536.55M822.45 520.80L820.20 521.55L818.70 523.05L817.95 524.55L817.20 527.55L817.20 529.80L817.95 532.80L818.70 534.30L820.20 535.80L822.45 536.55L823.95 536.55L826.20 535.80L827.70 534.30L828.45 532.80L829.20 529.80L829.20 527.55L828.45 524.55L827.70 523.05L826.20 521.55L823.95 520.80L822.45 520.80M822.45 520.80L820.95 521.55L819.45 523.05L818.70 524.55L817.95 527.55L817.95 529.80L818.70 532.80L819.45 534.30L820.95 535.80L822.45 536.55M823.95 536.55L825.45 535.80L826.95 534.30L827.70 532.80L828.45 529.80L828.45 527.55L827.70 524.55L826.95 523.05L825.45 521.55L823.95 520.80M856.40 500.85L856.40 516.60M857.15 500.85L857.15 516.60M851.90 500.85L851.15 505.35L851.15 500.85L862.40 500.85L862.40 505.35L861.65 500.85M854.15 516.60L859.40 516.60M867.65 500.85L866.90 501.60L867.65 502.35L868.40 501.60L867.65 500.85M867.65 506.10L867.65 516.60M868.40 506.10L868.40 516.60M865.40 506.10L868.40 506.10M865.40 516.60L870.65 516.60M879.65 500.85L877.40 501.60L875.90 503.10L875.15 504.60L874.40 507.60L874.40 509.85L875.15 512.85L875.90 514.35L877.40 515.85L879.65 516.60L881.15 516.60L883.40 515.85L884.90 514.35L885.65 512.85L886.40 509.85L886.40 507.60L885.65 504.60L884.90 503.10L883.40 501.60L881.15 500.85L879.65 500.85M879.65 500.85L878.15 501.60L876.65 503.10L875.90 504.60L875.15 507.60L875.15 509.85L875.90 512.85L876.65 514.35L878.15 515.85L879.65 516.60M881.15 516.60L882.65 515.85L884.15 514.35L884.90 512.85L885.65 509.85L885.65 507.60L884.90 504.60L884.15 503.10L882.65 501.60L881.15 500.85M943.30 520.80L943.30 536.55M944.05 520.80L944.05 536.55M938.80 520.80L938.05 525.30L938.05 520.80L949.30 520.80L949.30 525.30L948.55 520.80M941.05 536.55L946.30 536.55M954.55 520.80L953.80 521.55L954.55 522.30L955.30 521.55L954.55 520.80M954.55 526.05L954.55 536.55M955.30 526.05L955.30 536.55M952.30 526.05L955.30 526.05M952.30 536.55L957.55 536.55M966.55 520.80L964.30 521.55L962.80 523.05L962.05 524.55L961.30 527.55L961.30 529.80L962.05 532.80L962.80 534.30L964.30 535.80L966.55 536.55L968.05 536.55L970.30 535.80L971.80 534.30L972.55 532.80L973.30 529.80L973.30 527.55L972.55 524.55L971.80 523.05L970.30 521.55L968.05 520.80L966.55 520.80M966.55 520.80L965.05 521.55L963.55 523.05L962.80 524.55L962.05 527.55L962.05 529.80L962.80 532.80L963.55 534.30L965.05 535.80L966.55 536.55M968.05 536.55L969.55 535.80L971.05 534.30L971.80 532.80L972.55 529.80L972.55 527.55L971.80 524.55L971.05 523.05L969.55 521.55L968.05 520.80M971.40 500.85L971.40 516.60M972.15 500.85L972.15 516.60M966.90 500.85L966.15 505.35L966.15 500.85L977.40 500.85L977.40 505.35L976.65 500.85M969.15 516.60L974.40 516.60M982.65 500.85L981.90 501.60L982.65 502.35L983.40 501.60L982.65 500.85M982.65 506.10L982.65 516.60M983.40 506.10L983.40 516.60M980.40 506.10L983.40 506.10M980.40 516.60L985.65 516.60M994.65 500.85L992.40 501.60L990.90 503.10L990.15 504.60L989.40 507.60L989.40 509.85L990.15 512.85L990.90 514.35L992.40 515.85L994.65 516.60L996.15 516.60L998.40 515.85L999.90 514.35L1000.65 512.85L1001.40 509.85L1001.40 507.60L1000.65 504.60L999.90 503.10L998.40 501.60L996.15 500.85L994.65 500.85M994.65 500.85L993.15 501.60L991.65 503.10L990.90 504.60L990.15 507.60L990.15 509.85L990.90 512.85L991.65 514.35L993.15 515.85L994.65 516.60M996.15 516.60L997.65 515.85L999.15 514.35L999.90 512.85L1000.65 509.85L1000.65 507.60L999.90 504.60L999.15 503.10L997.65 501.60L996.15 500.85M1108.60 529.80L1122.10 529.80M1124.65 500.85L1124.65 516.60M1125.40 500.85L1125.40 516.60M1120.15 500.85L1119.40 505.35L1119.40 500.85L1130.65 500.85L1130.65 505.35L1129.90 500.85M1122.40 516.60L1127.65 516.60M1135.90 500.85L1135.15 501.60L1135.90 502.35L1136.65 501.60L1135.90 500.85M1135.90 506.10L1135.90 516.60M1136.65 506.10L1136.65 516.60M1133.65 506.10L1136.65 506.10M1133.65 516.60L1138.90 516.60M1147.90 500.85L1145.65 501.60L1144.15 503.10L1143.40 504.60L1142.65 507.60L1142.65 509.85L1143.40 512.85L1144.15 514.35L1145.65 515.85L1147.90 516.60L1149.40 516.60L1151.65 515.85L1153.15 514.35L1153.90 512.85L1154.65 509.85L1154.65 507.60L1153.90 504.60L1153.15 503.10L1151.65 501.60L1149.40 500.85L1147.90 500.85M1147.90 500.85L1146.40 501.60L1144.90 503.10L1144.15 504.60L1143.40 507.60L1143.40 509.85L1144.15 512.85L1144.90 514.35L1146.40 515.85L1147.90 516.60M1149.40 516.60L1150.90 515.85L1152.40 514.35L1153.15 512.85L1153.90 509.85L1153.90 507.60L1153.15 504.60L1152.40 503.10L1150.90 501.60L1149.40 500.85M1133.65 529.80L1147.15 529.80M1326.70 500.85L1326.70 516.60M1327.45 500.85L1327.45 516.60M1322.20 500.85L1321.45 505.35L1321.45 500.85L1332.70 500.85L1332.70 505.35L1331.95 500.85M1324.45 516.60L1329.70 516.60M1337.95 500.85L1337.20 501.60L1337.95 502.35L1338.70 501.60L1337.95 500.85M1337.95 506.10L1337.95 516.60M1338.70 506.10L1338.70 516.60M1335.70 506.10L1338.70 506.10M1335.70 516.60L1340.95 516.60M1349.95 500.85L1347.70 501.60L1346.20 503.10L1345.45 504.60L1344.70 507.60L1344.70 509.85L1345.45 512.85L1346.20 514.35L1347.70 515.85L1349.95 516.60L1351.45 516.60L1353.70 515.85L1355.20 514.35L1355.95 512.85L1356.70 509.85L1356.70 507.60L1355.95 504.60L1355.20 503.10L1353.70 501.60L1351.45 500.85L1349.95 500.85M1349.95 500.85L1348.45 501.60L1346.95 503.10L1346.20 504.60L1345.45 507.60L1345.45 509.85L1346.20 512.85L1346.95 514.35L1348.45 515.85L1349.95 516.60M1351.45 516.60L1352.95 515.85L1354.45 514.35L1355.20 512.85L1355.95 509.85L1355.95 507.60L1355.20 504.60L1354.45 503.10L1352.95 501.60L1351.45 500.85" stroke="#0000c8"/><path d="M505.65 475.80L495.90 491.55M506.40 475.80L496.65 491.55M496.65 475.80L495.90 480.30L495.90 475.80L506.40 475.80M495.90 491.55L506.40 491.55L506.40 487.05L505.65 491.55M512.40 481.05L512.40 491.55M513.15 481.05L513.15 491.55M513.15 485.55L513.90 483.30L515.40 481.80L516.90 481.05L519.15 481.05L519.90 481.80L519.90 482.55L519.15 483.30L518.40 482.55L519.15 481.80M510.15 481.05L513.15 481.05M510.15 491.55L515.40 491.55M528.90 475.80L526.65 476.55L525.15 478.05L524.40 479.55L523.65 482.55L523.65 484.80L524.40 487.80L525.15 489.30L526.65 490.80L528.90 491.55L530.40 491.55L532.65 490.80L534.15 489.30L534.90 487.80L535.65 484.80L535.65 482.55L534.90 479.55L534.15 478.05L532.65 476.55L530.40 475.80L528.90 475.80M528.90 475.80L527.40 476.55L525.90 478.05L525.15 479.55L524.40 482.55L524.40 484.80L525.15 487.80L525.90 489.30L527.40 490.80L528.90 491.55M530.40 491.55L531.90 490.80L533.40 489.30L534.15 487.80L534.90 484.80L534.90 482.55L534.15 479.55L533.40 478.05L531.90 476.55L530.40 475.80M530.65 495.80L520.90 511.55M531.40 495.80L521.65 511.55M521.65 495.80L520.90 500.30L520.90 495.80L531.40 495.80M520.90 511.55L531.40 511.55L531.40 507.05L530.65 511.55M537.40 501.05L537.40 511.55M538.15 501.05L538.15 511.55M538.15 505.55L538.90 503.30L540.40 501.80L541.90 501.05L544.15 501.05L544.90 501.80L544.90 502.55L544.15 503.30L543.40 502.55L544.15 501.80M535.15 501.05L538.15 501.05M535.15 511.55L540.40 511.55M553.90 495.80L551.65 496.55L550.15 498.05L549.40 499.55L548.65 502.55L548.65 504.80L549.40 507.80L550.15 509.30L551.65 510.80L553.90 511.55L555.40 511.55L557.65 510.80L559.15 509.30L559.90 507.80L560.65 504.80L560.65 502.55L559.90 499.55L559.15 498.05L557.65 496.55L555.40 495.80L553.90 495.80M553.90 495.80L552.40 496.55L550.90 498.05L550.15 499.55L549.40 502.55L549.40 504.80L550.15 507.80L550.90 509.30L552.40 510.80L553.90 511.55M555.40 511.55L556.90 510.80L558.40 509.30L559.15 507.80L559.90 504.80L559.90 502.55L559.15 499.55L558.40 498.05L556.90 496.55L555.40 495.80M592.35 475.80L582.60 491.55M593.10 475.80L583.35 491.55M583.35 475.80L582.60 480.30L582.60 475.80L593.10 475.80M582.60 491.55L593.10 491.55L593.10 487.05L592.35 491.55M599.10 481.05L599.10 491.55M599.85 481.05L599.85 491.55M599.85 485.55L600.60 483.30L602.10 481.80L603.60 481.05L605.85 481.05L606.60 481.80L606.60 482.55L605.85 483.30L605.10 482.55L605.85 481.80M596.85 481.05L599.85 481.05M596.85 491.55L602.10 491.55M615.60 475.80L613.35 476.55L611.85 478.05L611.10 479.55L610.35 482.55L610.35 484.80L611.10 487.80L611.85 489.30L613.35 490.80L615.60 491.55L617.10 491.55L619.35 490.80L620.85 489.30L621.60 487.80L622.35 484.80L622.35 482.55L621.60 479.55L620.85 478.05L619.35 476.55L617.10 475.80L615.60 475.80M615.60 475.80L614.10 476.55L612.60 478.05L611.85 479.55L611.10 482.55L611.10 484.80L611.85 487.80L612.60 489.30L614.10 490.80L615.60 491.55M617.10 491.55L618.60 490.80L620.10 489.30L620.85 487.80L621.60 484.80L621.60 482.55L620.85 479.55L620.10 478.05L618.60 476.55L617.10 475.80M586.60 495.80L586.60 511.55M587.35 495.80L587.35 511.55M584.35 495.80L589.60 495.80M584.35 511.55L595.60 511.55L595.60 507.05L594.85 511.55M600.10 502.55L600.10 503.30L599.35 503.30L599.35 502.55L600.10 501.80L601.60 501.05L604.60 501.05L606.10 501.80L606.85 502.55L607.60 504.05L607.60 509.30L608.35 510.80L609.10 511.55M606.85 502.55L606.85 509.30L607.60 510.80L609.10 511.55L609.85 511.55M606.85 504.05L606.10 504.80L601.60 505.55L599.35 506.30L598.60 507.80L598.60 509.30L599.35 510.80L601.60 511.55L603.85 511.55L605.35 510.80L606.85 509.30M601.60 505.55L600.10 506.30L599.35 507.80L599.35 509.30L600.10 510.80L601.60 511.55M618.85 495.80L616.60 496.55L615.10 498.05L614.35 499.55L613.60 502.55L613.60 504.80L614.35 507.80L615.10 509.30L616.60 510.80L618.85 511.55L620.35 511.55L622.60 510.80L624.10 509.30L624.85 507.80L625.60 504.80L625.60 502.55L624.85 499.55L624.10 498.05L622.60 496.55L620.35 495.80L618.85 495.80M618.85 495.80L617.35 496.55L615.85 498.05L615.10 499.55L614.35 502.55L614.35 504.80L615.10 507.80L615.85 509.30L617.35 510.80L618.85 511.55M620.35 511.55L621.85 510.80L623.35 509.30L624.10 507.80L624.85 504.80L624.85 502.55L624.10 499.55L623.35 498.05L621.85 496.55L620.35 495.80M650.35 475.80L640.60 491.55M651.10 475.80L641.35 491.55M641.35 475.80L640.60 480.30L640.60 475.80L651.10 475.80M640.60 491.55L651.10 491.55L651.10 487.05L650.35 491.55M657.10 481.05L657.10 491.55M657.85 481.05L657.85 491.55M657.85 485.55L658.60 483.30L660.10 481.80L661.60 481.05L663.85 481.05L664.60 481.80L664.60 482.55L663.85 483.30L663.10 482.55L663.85 481.80M654.85 481.05L657.85 481.05M654.85 491.55L660.10 491.55M673.60 475.80L671.35 476.55L669.85 478.05L669.10 479.55L668.35 482.55L668.35 484.80L669.10 487.80L669.85 489.30L671.35 490.80L673.60 491.55L675.10 491.55L677.35 490.80L678.85 489.30L679.60 487.80L680.35 484.80L680.35 482.55L679.60 479.55L678.85 478.05L677.35 476.55L675.10 475.80L673.60 475.80M673.60 475.80L672.10 476.55L670.60 478.05L669.85 479.55L669.10 482.55L669.10 484.80L669.85 487.80L670.60 489.30L672.10 490.80L673.60 491.55M675.10 491.55L676.60 490.80L678.10 489.30L678.85 487.80L679.60 484.80L679.60 482.55L678.85 479.55L678.10 478.05L676.60 476.55L675.10 475.80M652.35 495.80L642.60 511.55M653.10 495.80L643.35 511.55M643.35 495.80L642.60 500.30L642.60 495.80L653.10 495.80M642.60 511.55L653.10 511.55L653.10 507.05L652.35 511.55M659.10 501.05L659.10 511.55M659.85 501.05L659.85 511.55M659.85 505.55L660.60 503.30L662.10 501.80L663.60 501.05L665.85 501.05L666.60 501.80L666.60 502.55L665.85 503.30L665.10 502.55L665.85 501.80M656.85 501.05L659.85 501.05M656.85 511.55L662.10 511.55M675.60 495.80L673.35 496.55L671.85 498.05L671.10 499.55L670.35 502.55L670.35 504.80L671.10 507.80L671.85 509.30L673.35 510.80L675.60 511.55L677.10 511.55L679.35 510.80L680.85 509.30L681.60 507.80L682.35 504.80L682.35 502.55L681.60 499.55L680.85 498.05L679.35 496.55L677.10 495.80L675.60 495.80M675.60 495.80L674.10 496.55L672.60 498.05L671.85 499.55L671.10 502.55L671.10 504.80L671.85 507.80L672.60 509.30L674.10 510.80L675.60 511.55M677.10 511.55L678.60 510.80L680.10 509.30L680.85 507.80L681.60 504.80L681.60 502.55L680.85 499.55L680.10 498.05L678.60 496.55L677.10 495.80M696.05 475.80L686.30 491.55M696.80 475.80L687.05 491.55M687.05 475.80L686.30 480.30L686.30 475.80L696.80 475.80M686.30 491.55L696.80 491.55L696.80 487.05L696.05 491.55M702.80 481.05L702.80 491.55M703.55 481.05L703.55 491.55M703.55 485.55L704.30 483.30L705.80 481.80L707.30 481.05L709.55 481.05L710.30 481.80L710.30 482.55L709.55 483.30L708.80 482.55L709.55 481.80M700.55 481.05L703.55 481.05M700.55 491.55L705.80 491.55M719.30 475.80L717.05 476.55L715.55 478.05L714.80 479.55L714.05 482.55L714.05 484.80L714.80 487.80L715.55 489.30L717.05 490.80L719.30 491.55L720.80 491.55L723.05 490.80L724.55 489.30L725.30 487.80L726.05 484.80L726.05 482.55L725.30 479.55L724.55 478.05L723.05 476.55L720.80 475.80L719.30 475.80M719.30 475.80L717.80 476.55L716.30 478.05L715.55 479.55L714.80 482.55L714.80 484.80L715.55 487.80L716.30 489.30L717.80 490.80L719.30 491.55M720.80 491.55L722.30 490.80L723.80 489.30L724.55 487.80L725.30 484.80L725.30 482.55L724.55 479.55L723.80 478.05L722.30 476.55L720.80 475.80M729.70 495.80L734.95 504.05L734.95 511.55M730.45 495.80L735.70 504.05L735.70 511.55M740.95 495.80L735.70 504.05M728.20 495.80L732.70 495.80M737.95 495.80L742.45 495.80M732.70 511.55L737.95 511.55M750.70 495.80L748.45 496.55L746.95 498.05L746.20 499.55L745.45 502.55L745.45 504.80L746.20 507.80L746.95 509.30L748.45 510.80L750.70 511.55L752.20 511.55L754.45 510.80L755.95 509.30L756.70 507.80L757.45 504.80L757.45 502.55L756.70 499.55L755.95 498.05L754.45 496.55L752.20 495.80L750.70 495.80M750.70 495.80L749.20 496.55L747.70 498.05L746.95 499.55L746.20 502.55L746.20 504.80L746.95 507.80L747.70 509.30L749.20 510.80L750.70 511.55M752.20 511.55L753.70 510.80L755.20 509.30L755.95 507.80L756.70 504.80L756.70 502.55L755.95 499.55L755.20 498.05L753.70 496.55L752.20 495.80M786.40 475.80L791.65 484.05L791.65 491.55M787.15 475.80L792.40 484.05L792.40 491.55M797.65 475.80L792.40 484.05M784.90 475.80L789.40 475.80M794.65 475.80L799.15 475.80M789.40 491.55L794.65 491.55M807.40 475.80L805.15 476.55L803.65 478.05L802.90 479.55L802.15 482.55L802.15 484.80L802.90 487.80L803.65 489.30L805.15 490.80L807.40 491.55L808.90 491.55L811.15 490.80L812.65 489.30L813.40 487.80L814.15 484.80L814.15 482.55L813.40 479.55L812.65 478.05L811.15 476.55L808.90 475.80L807.40 475.80M807.40 475.80L805.90 476.55L804.40 478.05L803.65 479.55L802.90 482.55L802.90 484.80L803.65 487.80L804.40 489.30L805.90 490.80L807.40 491.55M808.90 491.55L810.40 490.80L811.90 489.30L812.65 487.80L813.40 484.80L813.40 482.55L812.65 479.55L811.90 478.05L810.40 476.55L808.90 475.80M796.15 495.80L786.40 511.55M796.90 495.80L787.15 511.55M787.15 495.80L786.40 500.30L786.40 495.80L796.90 495.80M786.40 511.55L796.90 511.55L796.90 507.05L796.15 511.55M802.90 501.05L802.90 511.55M803.65 501.05L803.65 511.55M803.65 505.55L804.40 503.30L805.90 501.80L807.40 501.05L809.65 501.05L810.40 501.80L810.40 502.55L809.65 503.30L808.90 502.55L809.65 501.80M800.65 501.05L803.65 501.05M800.65 511.55L805.90 511.55M819.40 495.80L817.15 496.55L815.65 498.05L814.90 499.55L814.15 502.55L814.15 504.80L814.90 507.80L815.65 509.30L817.15 510.80L819.40 511.55L820.90 511.55L823.15 510.80L824.65 509.30L825.40 507.80L826.15 504.80L826.15 502.55L825.40 499.55L824.65 498.05L823.15 496.55L820.90 495.80L819.40 495.80M819.40 495.80L817.90 496.55L816.40 498.05L815.65 499.55L814.90 502.55L814.90 504.80L815.65 507.80L816.40 509.30L817.90 510.80L819.40 511.55M820.90 511.55L822.40 510.80L823.90 509.30L824.65 507.80L825.40 504.80L825.40 502.55L824.65 499.55L823.90 498.05L822.40 496.55L820.90 495.80M802.55 475.80L792.80 491.55M803.30 475.80L793.55 491.55M793.55 475.80L792.80 480.30L792.80 475.80L803.30 475.80M792.80 491.55L803.30 491.55L803.30 487.05L802.55 491.55M809.30 481.05L809.30 491.55M810.05 481.05L810.05 491.55M810.05 485.55L810.80 483.30L812.30 481.80L813.80 481.05L816.05 481.05L816.80 481.80L816.80 482.55L816.05 483.30L815.30 482.55L816.05 481.80M807.05 481.05L810.05 481.05M807.05 491.55L812.30 491.55M825.80 475.80L823.55 476.55L822.05 478.05L821.30 479.55L820.55 482.55L820.55 484.80L821.30 487.80L822.05 489.30L823.55 490.80L825.80 491.55L827.30 491.55L829.55 490.80L831.05 489.30L831.80 487.80L832.55 484.80L832.55 482.55L831.80 479.55L831.05 478.05L829.55 476.55L827.30 475.80L825.80 475.80M825.80 475.80L824.30 476.55L822.80 478.05L822.05 479.55L821.30 482.55L821.30 484.80L822.05 487.80L822.80 489.30L824.30 490.80L825.80 491.55M827.30 491.55L828.80 490.80L830.30 489.30L831.05 487.80L831.80 484.80L831.80 482.55L831.05 479.55L830.30 478.05L828.80 476.55L827.30 475.80M829.75 495.80L820.00 511.55M830.50 495.80L820.75 511.55M820.75 495.80L820.00 500.30L820.00 495.80L830.50 495.80M820.00 511.55L830.50 511.55L830.50 507.05L829.75 511.55M836.50 501.05L836.50 511.55M837.25 501.05L837.25 511.55M837.25 505.55L838.00 503.30L839.50 501.80L841.00 501.05L843.25 501.05L844.00 501.80L844.00 502.55L843.25 503.30L842.50 502.55L843.25 501.80M834.25 501.05L837.25 501.05M834.25 511.55L839.50 511.55M853.00 495.80L850.75 496.55L849.25 498.05L848.50 499.55L847.75 502.55L847.75 504.80L848.50 507.80L849.25 509.30L850.75 510.80L853.00 511.55L854.50 511.55L856.75 510.80L858.25 509.30L859.00 507.80L859.75 504.80L859.75 502.55L859.00 499.55L858.25 498.05L856.75 496.55L854.50 495.80L853.00 495.80M853.00 495.80L851.50 496.55L850.00 498.05L849.25 499.55L848.50 502.55L848.50 504.80L849.25 507.80L850.00 509.30L851.50 510.80L853.00 511.55M854.50 511.55L856.00 510.80L857.50 509.30L858.25 507.80L859.00 504.80L859.00 502.55L858.25 499.55L857.50 498.05L856.00 496.55L854.50 495.80M869.45 475.80L859.70 491.55M870.20 475.80L860.45 491.55M860.45 475.80L859.70 480.30L859.70 475.80L870.20 475.80M859.70 491.55L870.20 491.55L870.20 487.05L869.45 491.55M876.20 481.05L876.20 491.55M876.95 481.05L876.95 491.55M876.95 485.55L877.70 483.30L879.20 481.80L880.70 481.05L882.95 481.05L883.70 481.80L883.70 482.55L882.95 483.30L882.20 482.55L882.95 481.80M873.95 481.05L876.95 481.05M873.95 491.55L879.20 491.55M892.70 475.80L890.45 476.55L888.95 478.05L888.20 479.55L887.45 482.55L887.45 484.80L888.20 487.80L888.95 489.30L890.45 490.80L892.70 491.55L894.20 491.55L896.45 490.80L897.95 489.30L898.70 487.80L899.45 484.80L899.45 482.55L898.70 479.55L897.95 478.05L896.45 476.55L894.20 475.80L892.70 475.80M892.70 475.80L891.20 476.55L889.70 478.05L888.95 479.55L888.20 482.55L888.20 484.80L888.95 487.80L889.70 489.30L891.20 490.80L892.70 491.55M894.20 491.55L895.70 490.80L897.20 489.30L897.95 487.80L898.70 484.80L898.70 482.55L897.95 479.55L897.20 478.05L895.70 476.55L894.20 475.80M914.85 495.80L905.10 511.55M915.60 495.80L905.85 511.55M905.85 495.80L905.10 500.30L905.10 495.80L915.60 495.80M905.10 511.55L915.60 511.55L915.60 507.05L914.85 511.55M921.60 501.05L921.60 511.55M922.35 501.05L922.35 511.55M922.35 505.55L923.10 503.30L924.60 501.80L926.10 501.05L928.35 501.05L929.10 501.80L929.10 502.55L928.35 503.30L927.60 502.55L928.35 501.80M919.35 501.05L922.35 501.05M919.35 511.55L924.60 511.55M938.10 495.80L935.85 496.55L934.35 498.05L933.60 499.55L932.85 502.55L932.85 504.80L933.60 507.80L934.35 509.30L935.85 510.80L938.10 511.55L939.60 511.55L941.85 510.80L943.35 509.30L944.10 507.80L944.85 504.80L944.85 502.55L944.10 499.55L943.35 498.05L941.85 496.55L939.60 495.80L938.10 495.80M938.10 495.80L936.60 496.55L935.10 498.05L934.35 499.55L933.60 502.55L933.60 504.80L934.35 507.80L935.10 509.30L936.60 510.80L938.10 511.55M939.60 511.55L941.10 510.80L942.60 509.30L943.35 507.80L944.10 504.80L944.10 502.55L943.35 499.55L942.60 498.05L941.10 496.55L939.60 495.80M922.15 475.80L912.40 491.55M922.90 475.80L913.15 491.55M913.15 475.80L912.40 480.30L912.40 475.80L922.90 475.80M912.40 491.55L922.90 491.55L922.90 487.05L922.15 491.55M928.90 481.05L928.90 491.55M929.65 481.05L929.65 491.55M929.65 485.55L930.40 483.30L931.90 481.80L933.40 481.05L935.65 481.05L936.40 481.80L936.40 482.55L935.65 483.30L934.90 482.55L935.65 481.80M926.65 481.05L929.65 481.05M926.65 491.55L931.90 491.55M945.40 475.80L943.15 476.55L941.65 478.05L940.90 479.55L940.15 482.55L940.15 484.80L940.90 487.80L941.65 489.30L943.15 490.80L945.40 491.55L946.90 491.55L949.15 490.80L950.65 489.30L951.40 487.80L952.15 484.80L952.15 482.55L951.40 479.55L950.65 478.05L949.15 476.55L946.90 475.80L945.40 475.80M945.40 475.80L943.90 476.55L942.40 478.05L941.65 479.55L940.90 482.55L940.90 484.80L941.65 487.80L942.40 489.30L943.90 490.80L945.40 491.55M946.90 491.55L948.40 490.80L949.90 489.30L950.65 487.80L951.40 484.80L951.40 482.55L950.65 479.55L949.90 478.05L948.40 476.55L946.90 475.80M1074.55 495.80L1064.80 511.55M1075.30 495.80L1065.55 511.55M1065.55 495.80L1064.80 500.30L1064.80 495.80L1075.30 495.80M1064.80 511.55L1075.30 511.55L1075.30 507.05L1074.55 511.55M1081.30 501.05L1081.30 511.55M1082.05 501.05L1082.05 511.55M1082.05 505.55L1082.80 503.30L1084.30 501.80L1085.80 501.05L1088.05 501.05L1088.80 501.80L1088.80 502.55L1088.05 503.30L1087.30 502.55L1088.05 501.80M1079.05 501.05L1082.05 501.05M1079.05 511.55L1084.30 511.55M1097.80 495.80L1095.55 496.55L1094.05 498.05L1093.30 499.55L1092.55 502.55L1092.55 504.80L1093.30 507.80L1094.05 509.30L1095.55 510.80L1097.80 511.55L1099.30 511.55L1101.55 510.80L1103.05 509.30L1103.80 507.80L1104.55 504.80L1104.55 502.55L1103.80 499.55L1103.05 498.05L1101.55 496.55L1099.30 495.80L1097.80 495.80M1097.80 495.80L1096.30 496.55L1094.80 498.05L1094.05 499.55L1093.30 502.55L1093.30 504.80L1094.05 507.80L1094.80 509.30L1096.30 510.80L1097.80 511.55M1099.30 511.55L1100.80 510.80L1102.30 509.30L1103.05 507.80L1103.80 504.80L1103.80 502.55L1103.05 499.55L1102.30 498.05L1100.80 496.55L1099.30 495.80M1231.90 475.80L1231.90 491.55M1232.65 475.80L1232.65 491.55M1229.65 475.80L1234.90 475.80M1229.65 491.55L1240.90 491.55L1240.90 487.05L1240.15 491.55M1245.40 482.55L1245.40 483.30L1244.65 483.30L1244.65 482.55L1245.40 481.80L1246.90 481.05L1249.90 481.05L1251.40 481.80L1252.15 482.55L1252.90 484.05L1252.90 489.30L1253.65 490.80L1254.40 491.55M1252.15 482.55L1252.15 489.30L1252.90 490.80L1254.40 491.55L1255.15 491.55M1252.15 484.05L1251.40 484.80L1246.90 485.55L1244.65 486.30L1243.90 487.80L1243.90 489.30L1244.65 490.80L1246.90 491.55L1249.15 491.55L1250.65 490.80L1252.15 489.30M1246.90 485.55L1245.40 486.30L1244.65 487.80L1244.65 489.30L1245.40 490.80L1246.90 491.55M1264.15 475.80L1261.90 476.55L1260.40 478.05L1259.65 479.55L1258.90 482.55L1258.90 484.80L1259.65 487.80L1260.40 489.30L1261.90 490.80L1264.15 491.55L1265.65 491.55L1267.90 490.80L1269.40 489.30L1270.15 487.80L1270.90 484.80L1270.90 482.55L1270.15 479.55L1269.40 478.05L1267.90 476.55L1265.65 475.80L1264.15 475.80M1264.15 475.80L1262.65 476.55L1261.15 478.05L1260.40 479.55L1259.65 482.55L1259.65 484.80L1260.40 487.80L1261.15 489.30L1262.65 490.80L1264.15 491.55M1265.65 491.55L1267.15 490.80L1268.65 489.30L1269.40 487.80L1270.15 484.80L1270.15 482.55L1269.40 479.55L1268.65 478.05L1267.15 476.55L1265.65 475.80M1398.35 495.80L1398.35 511.55M1399.10 495.80L1399.10 511.55M1396.10 495.80L1401.35 495.80M1396.10 511.55L1407.35 511.55L1407.35 507.05L1406.60 511.55M1411.85 502.55L1411.85 503.30L1411.10 503.30L1411.10 502.55L1411.85 501.80L1413.35 501.05L1416.35 501.05L1417.85 501.80L1418.60 502.55L1419.35 504.05L1419.35 509.30L1420.10 510.80L1420.85 511.55M1418.60 502.55L1418.60 509.30L1419.35 510.80L1420.85 511.55L1421.60 511.55M1418.60 504.05L1417.85 504.80L1413.35 505.55L1411.10 506.30L1410.35 507.80L1410.35 509.30L1411.10 510.80L1413.35 511.55L1415.60 511.55L1417.10 510.80L1418.60 509.30M1413.35 505.55L1411.85 506.30L1411.10 507.80L1411.10 509.30L1411.85 510.80L1413.35 511.55M1430.60 495.80L1428.35 496.55L1426.85 498.05L1426.10 499.55L1425.35 502.55L1425.35 504.80L1426.10 507.80L1426.85 509.30L1428.35 510.80L1430.60 511.55L1432.10 511.55L1434.35 510.80L1435.85 509.30L1436.60 507.80L1437.35 504.80L1437.35 502.55L1436.60 499.55L1435.85 498.05L1434.35 496.55L1432.10 495.80L1430.60 495.80M1430.60 495.80L1429.10 496.55L1427.60 498.05L1426.85 499.55L1426.10 502.55L1426.10 504.80L1426.85 507.80L1427.60 509.30L1429.10 510.80L1430.60 511.55M1432.10 511.55L1433.60 510.80L1435.10 509.30L1435.85 507.80L1436.60 504.80L1436.60 502.55L1435.85 499.55L1435.10 498.05L1433.60 496.55L1432.10 495.80M1408.60 475.80L1408.60 491.55M1409.35 475.80L1409.35 491.55M1406.35 475.80L1411.60 475.80M1406.35 491.55L1417.60 491.55L1417.60 487.05L1416.85 491.55M1422.10 482.55L1422.10 483.30L1421.35 483.30L1421.35 482.55L1422.10 481.80L1423.60 481.05L1426.60 481.05L1428.10 481.80L1428.85 482.55L1429.60 484.05L1429.60 489.30L1430.35 490.80L1431.10 491.55M1428.85 482.55L1428.85 489.30L1429.60 490.80L1431.10 491.55L1431.85 491.55M1428.85 484.05L1428.10 484.80L1423.60 485.55L1421.35 486.30L1420.60 487.80L1420.60 489.30L1421.35 490.80L1423.60 491.55L1425.85 491.55L1427.35 490.80L1428.85 489.30M1423.60 485.55L1422.10 486.30L1421.35 487.80L1421.35 489.30L1422.10 490.80L1423.60 491.55M1440.85 475.80L1438.60 476.55L1437.10 478.05L1436.35 479.55L1435.60 482.55L1435.60 484.80L1436.35 487.80L1437.10 489.30L1438.60 490.80L1440.85 491.55L1442.35 491.55L1444.60 490.80L1446.10 489.30L1446.85 487.80L1447.60 484.80L1447.60 482.55L1446.85 479.55L1446.10 478.05L1444.60 476.55L1442.35 475.80L1440.85 475.80M1440.85 475.80L1439.35 476.55L1437.85 478.05L1437.10 479.55L1436.35 482.55L1436.35 484.80L1437.10 487.80L1437.85 489.30L1439.35 490.80L1440.85 491.55M1442.35 491.55L1443.85 490.80L1445.35 489.30L1446.10 487.80L1446.85 484.80L1446.85 482.55L1446.10 479.55L1445.35 478.05L1443.85 476.55L1442.35 475.80" stroke="#dd00dd"/></g>
<path d="M211.7 466.9 L211.9 511.4 L213.8 513.3 L215.0 515.2 L216.3 517.7 L217.2 525.2 L218.5 505.2 L219.4 506.4 L220.3 507.0 L221.3 521.5 L222.5 517.7 L224.1 515.2 L225.0 513.3 L226.0 521.5 L227.2 502.6 L228.5 528.4 L230.1 517.7 L231.6 502.6 L232.9 504.5 L234.1 508.9 L235.1 492.6 L236.3 495.8 L237.6 495.1 L238.5 503.9 L239.8 507.0 L240.7 515.2 L242.6 521.5 L243.9 517.1 L245.1 515.8 L246.4 515.2 L247.6 511.4 L248.6 502.6 L249.4 490.7 L250.4 508.3 L251.4 496.4 L252.6 498.3 L253.9 493.9 L254.8 495.1 L255.5 519.6 L256.7 508.3 L257.6 515.8 L258.9 509.5 L260.2 517.7 L261.4 503.9 L262.7 518.3 L264.2 510.2 L265.2 506.4 L266.1 511.4 L267.4 501.4 L268.6 510.8 L269.9 517.7 L271.4 506.4 L272.7 512.7 L273.6 519.6 L275.2 506.4 L277.1 502.6 L278.3 495.8 L279.3 492.0 L280.2 500.1 L281.2 498.3 L282.7 492.6 L283.7 498.9 L284.9 500.8 L286.5 498.9 L287.7 496.4 L288.7 495.8 L289.6 500.1 L290.9 498.3 L292.8 497.6 L294.0 495.8 L295.3 492.6 L296.2 483.2 L297.5 480.7 L298.4 484.5 L300.0 486.7 L300.8 492.7 L302.6 528.0 L304.5 519.0 L306.0 512.2 L307.5 506.2 L308.7 515.2 L310.5 509.2 L312.0 513.7 L313.9 494.2 L315.0 512.2 L316.6 492.7 L318.1 515.2 L319.6 516.0 L321.1 509.2 L322.6 503.2 L324.1 512.2 L325.6 506.2 L327.5 497.2 L329.0 497.9 L330.1 503.2 L331.6 499.4 L333.1 502.5 L334.2 507.7 L335.4 510.7 L336.9 517.5 L338.4 505.5 L339.9 497.2 L340.6 491.9 L342.5 487.4 L343.6 492.7 L345.1 494.9 L346.7 492.7 L348.5 485.1 L350.4 479.9 L351.9 488.2 L353.4 482.1 L354.9 483.6 L355.7 475.4 L357.2 486.7 L358.7 468.6 L360.6 459.6 L362.1 468.6 L363.6 482.1 L365.1 473.1 L366.6 462.6 L367.7 453.5 L368.8 463.3 L369.6 492.7 L370.4 526.5 L371.5 517.5 L373.4 510.7 L375.2 504.0 L376.7 500.2 L378.3 512.2 L379.8 504.0 L380.9 497.2 L382.8 492.7 L384.3 500.2 L386.2 511.5 L388.4 516.7 L390.3 510.7 L391.8 504.7 L394.1 498.7 L395.0 501.9 L396.7 491.1 L398.3 501.1 L399.6 491.9 L400.9 482.7 L402.5 491.9 L403.8 481.9 L405.5 485.2 L406.7 483.5 L407.5 487.7 L409.2 473.5 L411.3 469.3 L412.6 476.9 L414.2 489.4 L415.5 473.5 L417.2 464.3 L418.4 476.0 L420.1 476.9 L421.3 471.8 L422.6 479.4 L424.3 475.2 L425.5 456.0 L426.8 463.5 L428.0 477.7 L429.3 469.3 L430.5 472.7 L432.6 456.8 L434.3 469.3 L436.0 471.0 L437.2 466.8 L438.1 478.5 L439.3 455.1 L440.2 446.8 L441.4 451.8 L442.2 455.1 L442.8 486.9 L444.5 524.1 L446.0 514.5 L448.5 508.6 L451.0 505.3 L453.5 492.7 L455.2 496.9 L457.3 510.3 L459.0 489.4 L461.1 486.9 L463.1 484.4 L464.4 470.2 L467.3 464.3 L468.6 477.7 L470.7 493.6 L471.9 479.4 L473.6 481.0 L475.3 460.1 L476.9 480.2 L478.6 491.1 L479.9 465.2 L481.5 457.6 L482.8 466.0 L484.9 448.4 L486.6 453.4 L488.2 472.7 L490.0 442.6 L491.3 446.8 L492.5 456.9 L493.8 463.5 L495.9 453.5 L497.1 456.9 L497.9 450.2 L499.2 473.6 L500.5 458.5 L502.1 456.9 L503.8 456.9 L504.6 451.0 L505.9 456.9 L508.0 435.1 L509.6 450.2 L511.3 451.8 L513.8 459.4 L515.1 441.0 L516.8 436.8 L518.4 450.2 L519.7 446.8 L520.9 454.3 L522.6 450.2 L524.3 441.0 L526.4 455.2 L527.6 450.2 L529.3 428.4 L531.4 433.4 L533.1 432.6 L535.2 454.3 L538.1 420.9 L539.3 433.4 L542.7 494.5 L547.7 473.6 L551.9 465.2 L554.4 457.7 L556.1 460.2 L558.1 478.6 L560.2 471.1 L561.9 473.6 L563.6 471.1 L565.3 447.7 L567.3 458.5 L568.2 466.1 L569.8 456.9 L571.5 458.5 L572.8 447.7 L574.4 451.8 L577.0 453.5 L580.3 457.7 L583.6 458.5 L584.5 479.4 L585.7 413.3 L586.3 450.1 L587.7 456.8 L589.0 458.8 L589.7 463.5 L591.0 460.2 L592.4 468.2 L593.4 475.6 L594.4 467.5 L595.7 471.5 L597.4 472.9 L598.7 479.6 L600.7 471.5 L602.4 474.2 L604.1 479.6 L606.4 478.2 L608.1 468.9 L609.4 474.2 L611.1 462.8 L613.1 468.9 L615.1 460.2 L617.8 472.2 L619.8 456.8 L621.5 456.8 L622.8 449.5 L623.8 456.8 L625.1 446.1 L627.1 451.5 L629.1 456.2 L630.5 460.8 L632.5 449.5 L634.5 448.1 L635.8 442.1 L636.8 453.5 L638.5 449.5 L640.2 443.4 L641.5 453.5 L643.9 428.7 L646.2 426.7 L647.9 432.7 L650.2 455.5 L651.9 442.8 L653.9 442.1 L655.2 438.1 L657.2 448.8 L658.9 430.1 L660.6 429.4 L661.9 418.0 L663.9 416.0 L665.9 433.4 L667.9 456.8 L669.6 449.5 L672.0 436.8 L674.0 436.1 L676.0 442.8 L677.6 437.4 L680.0 466.2 L680.0 458.4 L681.0 470.4 L683.0 465.4 L685.0 471.4 L687.0 475.4 L689.0 473.4 L692.0 471.4 L695.1 475.4 L697.6 483.5 L699.1 480.4 L701.1 482.4 L703.1 478.4 L706.1 476.4 L709.1 473.4 L710.6 470.4 L712.6 462.4 L714.1 474.4 L715.6 467.4 L717.1 475.4 L719.2 466.4 L721.2 463.4 L723.2 465.4 L724.7 460.4 L726.2 466.4 L728.2 451.3 L730.2 441.3 L732.2 447.3 L734.7 458.4 L736.2 445.3 L738.2 443.3 L740.2 440.3 L742.2 432.2 L744.8 443.3 L746.8 428.2 L748.3 423.2 L751.3 422.2 L754.3 435.3 L756.3 423.2 L758.3 419.2 L760.3 431.2 L762.3 417.2 L764.3 420.2 L766.3 400.1 L768.4 412.2 L770.4 405.1 L771.9 401.1 L774.4 418.2 L776.4 403.1 L778.4 402.1 L779.9 409.2 L781.9 390.1 L782.9 376.0 L783.9 410.2 L785.0 418.6 L786.4 435.2 L787.8 465.6 L789.1 468.3 L791.4 466.5 L792.4 472.9 L794.2 466.5 L795.6 467.4 L797.0 477.5 L798.3 488.6 L800.2 467.4 L802.0 466.5 L803.9 463.7 L805.7 470.2 L807.1 473.8 L808.0 470.2 L809.4 483.0 L811.7 484.0 L813.5 478.4 L815.4 474.8 L817.7 472.9 L820.0 461.9 L821.8 472.0 L823.6 455.4 L825.5 463.7 L826.9 456.4 L828.2 463.7 L829.6 453.6 L831.0 454.5 L832.4 443.5 L834.7 450.8 L836.5 443.5 L838.4 442.6 L840.2 420.5 L842.0 421.4 L844.3 427.8 L846.6 411.3 L848.5 412.2 L850.8 404.8 L851.7 411.3 L853.1 402.1 L854.9 416.8 L856.8 420.5 L858.6 415.0 L860.0 404.8 L862.3 389.2 L863.7 403.0 L865.0 398.4 L866.9 400.2 L868.7 397.5 L870.6 387.4 L871.9 380.0 L874.2 380.0 L875.0 378.8 L875.9 387.0 L877.3 388.9 L878.7 398.1 L880.5 386.1 L882.4 389.8 L883.7 381.5 L885.6 359.4 L887.0 368.6 L888.3 386.1 L890.2 373.2 L891.6 369.6 L892.9 367.7 L893.9 354.8 L895.2 353.0 L897.1 368.6 L898.5 376.0 L899.8 398.1 L901.7 385.2 L903.1 394.4 L904.9 399.0 L906.7 385.2 L908.1 378.8 L910.0 380.6 L911.8 384.3 L913.2 362.2 L914.6 365.9 L915.9 354.8 L917.3 355.8 L919.2 342.9 L921.0 369.6 L922.8 374.2 L924.2 379.7 L926.1 380.6 L927.4 403.6 L929.7 375.1 L931.6 385.2 L933.0 376.9 L935.7 368.6 L938.0 386.1 L939.4 378.8 L941.2 377.8 L942.6 372.3 L944.0 382.4 L945.8 374.2 L947.7 385.2 L949.5 396.2 L951.4 388.0 L953.2 395.3 L955.5 389.8 L956.9 396.2 L958.7 420.2 L960.6 417.4 L962.4 411.0 L966.1 393.5 L968.4 428.4 L970.7 423.8 L973.0 425.7 L975.3 411.0 L978.0 407.3 L980.8 434.9 L982.6 436.7 L988.3 417.9 L990.9 420.5 L992.7 426.7 L994.6 417.9 L997.8 410.4 L1001.3 389.1 L1004.7 424.2 L1008.4 404.1 L1010.9 401.6 L1013.4 391.6 L1015.3 402.9 L1018.5 385.3 L1020.3 384.1 L1022.6 371.5 L1026.0 359.6 L1027.9 392.8 L1031.6 374.0 L1033.5 372.8 L1037.7 350.4 L1040.6 348.5 L1044.4 340.8 L1047.8 316.0 L1049.7 320.8 L1051.3 337.1 L1054.0 330.4 L1056.4 322.7 L1057.9 302.5 L1059.3 310.2 L1061.2 297.7 L1063.2 310.2 L1064.6 297.7 L1067.0 282.3 L1068.0 272.7 L1069.4 264.0 L1072.3 273.7 L1074.2 258.3 L1076.0 275.6 L1077.1 265.0 L1079.0 264.0 L1081.9 259.2 L1083.4 247.7 L1084.8 258.3 L1085.8 249.6 L1087.7 242.9 L1089.1 248.7 L1091.1 238.1 L1092.5 250.6 L1093.9 234.2 L1096.3 224.6 L1098.3 292.7 L1099.2 363.8 L1100.8 388.8 L1103.1 379.2 L1105.0 356.2 L1107.9 338.8 L1110.8 410.0 L1112.7 413.8 L1115.6 398.5 L1118.5 386.9 L1121.0 365.8 L1124.2 431.2 L1128.1 425.4 L1132.9 396.5 L1135.8 408.1 L1138.7 396.5 L1141.5 390.8 L1145.4 363.8 L1148.3 381.2 L1151.2 379.2 L1154.0 369.6 L1156.0 356.2 L1160.2 340.7 L1162.4 329.4 L1164.0 324.9 L1165.4 309.1 L1167.6 313.6 L1169.2 295.6 L1171.9 277.5 L1173.7 288.8 L1175.3 275.2 L1177.6 286.5 L1179.8 273.0 L1182.8 243.6 L1186.1 241.3 L1188.4 236.8 L1190.7 221.0 L1192.2 230.0 L1194.5 207.5 L1197.4 193.9 L1199.7 198.4 L1201.5 187.1 L1203.8 212.0 L1206.7 169.6 L1207.7 158.2 L1209.0 157.6 L1210.4 153.5 L1211.7 156.9 L1214.0 167.6 L1216.7 152.9 L1218.1 153.5 L1219.7 141.5 L1221.4 148.9 L1222.7 150.9 L1224.1 165.6 L1226.1 148.9 L1227.4 138.8 L1228.8 150.2 L1229.4 142.2 L1231.1 134.8 L1232.8 140.8 L1234.4 136.2 L1236.1 130.8 L1238.1 134.8 L1239.5 150.9 L1241.5 126.5 L1243.5 146.2 L1245.2 131.5 L1246.8 129.5 L1248.2 123.4 L1250.2 150.2 L1252.8 120.1 L1254.8 110.7 L1256.5 128.1 L1258.2 106.7 L1260.2 104.7 L1261.2 103.4 L1262.2 107.4 L1263.9 101.4 L1265.2 102.7 L1266.9 114.7 L1269.6 106.7 L1271.6 111.4 L1272.9 106.7 L1275.6 104.7 L1277.6 107.4 L1278.9 108.7 L1280.3 106.7 L1281.6 123.4 L1282.9 143.5 L1283.9 169.6 L1283.4 166.7 L1284.4 204.2 L1286.0 193.5 L1287.4 170.8 L1289.0 162.1 L1290.1 176.1 L1292.1 193.5 L1294.1 189.5 L1295.4 160.7 L1296.7 174.8 L1297.8 239.0 L1299.4 221.6 L1301.0 239.0 L1303.4 210.9 L1306.1 200.9 L1308.8 209.5 L1310.8 259.0 L1312.1 265.7 L1313.5 280.4 L1315.5 267.1 L1317.5 264.4 L1319.5 251.0 L1321.5 252.3 L1323.5 251.0 L1324.8 260.4 L1326.8 252.3 L1328.2 261.7 L1330.9 249.7 L1332.9 228.3 L1335.5 217.6 L1337.5 241.6 L1340.2 261.7 L1342.9 255.0 L1344.9 243.0 L1347.6 236.3 L1349.6 224.3 L1351.6 244.3 L1354.3 232.3 L1356.3 230.9 L1358.3 221.6 L1359.3 198.8 L1360.9 205.5 L1363.6 192.2 L1365.6 200.2 L1367.6 233.6 L1369.6 230.9 L1371.4 213.6 L1373.0 218.9 L1374.3 209.5 L1375.7 190.8 L1377.7 188.8 L1379.7 208.2 L1382.3 198.8 L1384.4 189.5 L1386.4 188.1 L1388.4 172.1 L1390.0 182.9 L1391.9 186.6 L1393.2 185.4 L1395.0 200.4 L1396.9 182.2 L1398.2 199.8 L1399.8 185.4 L1401.3 186.6 L1402.8 168.4 L1404.8 175.3 L1406.6 192.3 L1408.2 191.6 L1410.1 154.0 L1412.0 162.8 L1414.5 150.3 L1416.1 155.3 L1417.0 149.0 L1418.9 147.7 L1420.7 132.7 L1422.4 152.8 L1423.6 135.2 L1425.8 169.7 L1428.8 137.0 L1430.5 132.9 L1432.0 114.8 L1433.2 127.7 L1434.3 131.2 L1436.4 144.6 L1437.6 130.6 L1438.7 110.1 L1439.9 119.5 L1441.4 121.8 L1443.1 138.2 L1444.6 123.0 L1445.7 117.7 L1447.5 106.6 L1449.0 111.3 L1450.4 131.8 L1451.9 130.0 L1452.8 120.6 L1453.9 117.7 L1455.1 118.9 L1456.9 107.8 L1458.9 135.3 L1461.0 115.4 L1462.4 101.3 L1463.3 109.5 L1465.1 111.3 L1466.2 116.0 L1467.4 126.5 L1468.9 101.3 L1470.9 90.2 L1472.4 98.4 L1473.2 101.9 L1474.7 97.2 L1476.5 108.4 L1477.6 89.6 L1479.1 83.2 L1480.3 93.1 L1481.1 92.0 L1482.3 120.6 L1484.7 99.6 L1485.5 103.1 L1487.3 82.0 L1488.8 92.0 L1490.2 111.3 L1492.8 85.5 L1494.0 101.3 L1495.2 112.4" fill="none" stroke="#000" stroke-width="1.85" stroke-linejoin="round" stroke-linecap="round"/>
<path d="M255.4 58.6V550.8M303.0 58.6V550.8M317.5 58.6V550.8M370.2 58.6V550.8M444.5 58.6V550.8M542.7 58.6V550.8M669.7 58.6V550.8M697.5 58.6V550.8M699.5 58.6V550.8M791.3 58.6V550.8M848.5 58.6V550.8M935.4 58.6V550.8M963.5 58.6V550.8M1104.45 58.6V550.8M1116.75 58.6V550.8M1129.5 58.6V550.8M1318.8 58.6V550.8" stroke="#4848a6" stroke-width="1.4" fill="none"/><path d="M253.2 58.7V550.8M492.5 58.7V550.8M517.5 58.7V550.8M579.2 58.7V550.8M581.7 58.7V550.8M637.2 58.7V550.8M639.2 58.7V550.8M682.9 58.7V550.8M726.3 58.7V550.8M789.4 58.7V550.8M816.6 58.7V550.8M856.3 58.7V550.8M1061.4 58.7V550.8M1227.0 58.7V550.8M1393.45 58.7V550.8M1403.7 58.7V550.8" stroke="#cc4cd4" stroke-width="1.4" fill="none" stroke-dasharray="15.7 12.3"/><path d="M783.0 58.7V550.8" stroke="#e048e0" stroke-width="2.0" fill="none" stroke-dasharray="15.7 12.3"/><path d="M901.7 58.7V550.8M909.0 58.7V550.8" stroke="#301530" stroke-width="1.5" fill="none" stroke-dasharray="15.7 12.3"/>
</svg>
</body></html>
